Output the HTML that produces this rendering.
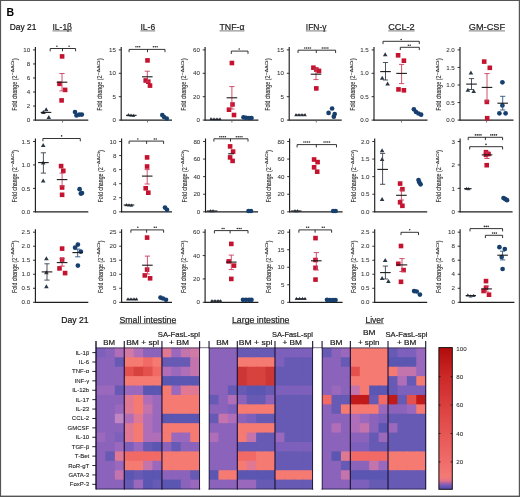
<!DOCTYPE html><html><head><meta charset="utf-8"><style>html,body{margin:0;padding:0;background:#fff;}body{width:520px;height:497px;overflow:hidden;}svg{display:block;font-family:"Liberation Sans", sans-serif;will-change:transform;}</style></head><body><svg width="520" height="497" viewBox="0 0 520 497"><rect width="520" height="497" fill="#fff"/><text x="6.4" y="15.5" font-size="10.5" text-anchor="start" fill="#000" font-weight="bold">B</text><text x="9.8" y="30" font-size="9.3" text-anchor="start" fill="#111" stroke="#111" stroke-width="0.2" textLength="26.6" lengthAdjust="spacingAndGlyphs">Day 21</text><text x="52.5" y="29.8" font-size="9" text-anchor="start" fill="#222" stroke="#222" stroke-width="0.2" textLength="19.5" lengthAdjust="spacingAndGlyphs">IL-1&#946;</text><line x1="52.5" y1="30.9" x2="72" y2="30.9" stroke="#444" stroke-width="0.7"/><text x="140.4" y="29.8" font-size="9" text-anchor="start" fill="#222" stroke="#222" stroke-width="0.2" textLength="14.8" lengthAdjust="spacingAndGlyphs">IL-6</text><line x1="140.4" y1="30.9" x2="155.2" y2="30.9" stroke="#444" stroke-width="0.7"/><text x="219.5" y="29.8" font-size="9" text-anchor="start" fill="#222" stroke="#222" stroke-width="0.2" textLength="25" lengthAdjust="spacingAndGlyphs">TNF-&#945;</text><line x1="219.5" y1="30.9" x2="244.5" y2="30.9" stroke="#444" stroke-width="0.7"/><text x="305.8" y="29.8" font-size="9" text-anchor="start" fill="#222" stroke="#222" stroke-width="0.2" textLength="20.7" lengthAdjust="spacingAndGlyphs">IFN-&#947;</text><line x1="305.8" y1="30.9" x2="326.5" y2="30.9" stroke="#444" stroke-width="0.7"/><text x="388.2" y="29.8" font-size="9" text-anchor="start" fill="#222" stroke="#222" stroke-width="0.2" textLength="26.5" lengthAdjust="spacingAndGlyphs">CCL-2</text><line x1="388.2" y1="30.9" x2="414.7" y2="30.9" stroke="#444" stroke-width="0.7"/><text x="468.8" y="29.8" font-size="9" text-anchor="start" fill="#222" stroke="#222" stroke-width="0.2" textLength="36.2" lengthAdjust="spacingAndGlyphs">GM-CSF</text><line x1="468.8" y1="30.9" x2="505" y2="30.9" stroke="#444" stroke-width="0.7"/><text x="61.3" y="323" font-size="9" text-anchor="start" fill="#111" stroke="#111" stroke-width="0.2" textLength="27.3" lengthAdjust="spacingAndGlyphs">Day 21</text><text x="119.5" y="322.8" font-size="9" text-anchor="start" fill="#222" stroke="#222" stroke-width="0.2" textLength="56.8" lengthAdjust="spacingAndGlyphs">Small intestine</text><line x1="119.5" y1="323.7" x2="176.3" y2="323.7" stroke="#444" stroke-width="0.7"/><text x="232" y="322.8" font-size="9" text-anchor="start" fill="#222" stroke="#222" stroke-width="0.2" textLength="57.5" lengthAdjust="spacingAndGlyphs">Large intestine</text><line x1="232" y1="323.7" x2="289.5" y2="323.7" stroke="#444" stroke-width="0.7"/><text x="365.5" y="322.8" font-size="9" text-anchor="start" fill="#222" stroke="#222" stroke-width="0.2" textLength="18.3" lengthAdjust="spacingAndGlyphs">Liver</text><line x1="365.5" y1="323.7" x2="383.8" y2="323.7" stroke="#444" stroke-width="0.7"/><text x="103.3" y="345.2" font-size="7.4" text-anchor="start" fill="#222" stroke="#222" stroke-width="0.2" textLength="11.8" lengthAdjust="spacingAndGlyphs">BM</text><text x="126.2" y="345.2" font-size="7.4" text-anchor="start" fill="#222" stroke="#222" stroke-width="0.2" textLength="33" lengthAdjust="spacingAndGlyphs">BM + spl</text><text x="157.8" y="337.2" font-size="7.4" text-anchor="start" fill="#222" stroke="#222" stroke-width="0.2" textLength="42.2" lengthAdjust="spacingAndGlyphs">SA-FasL-spl</text><text x="169" y="345" font-size="7.4" text-anchor="start" fill="#222" stroke="#222" stroke-width="0.2" textLength="20" lengthAdjust="spacingAndGlyphs">+ BM</text><text x="216.3" y="345.2" font-size="7.4" text-anchor="start" fill="#222" stroke="#222" stroke-width="0.2" textLength="12.5" lengthAdjust="spacingAndGlyphs">BM</text><text x="238.8" y="345.2" font-size="7.4" text-anchor="start" fill="#222" stroke="#222" stroke-width="0.2" textLength="33.7" lengthAdjust="spacingAndGlyphs">BM + spl</text><text x="272" y="337.4" font-size="7.4" text-anchor="start" fill="#222" stroke="#222" stroke-width="0.2" textLength="41" lengthAdjust="spacingAndGlyphs">SA-FasL-spl</text><text x="282.5" y="345.2" font-size="7.4" text-anchor="start" fill="#222" stroke="#222" stroke-width="0.2" textLength="19.5" lengthAdjust="spacingAndGlyphs">+ BM</text><text x="330" y="345.2" font-size="7.4" text-anchor="start" fill="#222" stroke="#222" stroke-width="0.2" textLength="12.5" lengthAdjust="spacingAndGlyphs">BM</text><text x="363" y="335.4" font-size="7.4" text-anchor="start" fill="#222" stroke="#222" stroke-width="0.2" textLength="12.5" lengthAdjust="spacingAndGlyphs">BM</text><text x="358" y="345.2" font-size="7.4" text-anchor="start" fill="#222" stroke="#222" stroke-width="0.2" textLength="21.5" lengthAdjust="spacingAndGlyphs">+ spln</text><text x="385.5" y="337.4" font-size="7.4" text-anchor="start" fill="#222" stroke="#222" stroke-width="0.2" textLength="42" lengthAdjust="spacingAndGlyphs">SA-FasL-spl</text><text x="397" y="345.2" font-size="7.4" text-anchor="start" fill="#222" stroke="#222" stroke-width="0.2" textLength="19.3" lengthAdjust="spacingAndGlyphs">+ BM</text><line x1="35.4" y1="46.9" x2="35.4" y2="120.6" stroke="#1e1e1e" stroke-width="1.15"/><line x1="34.9" y1="120.1" x2="88.3" y2="120.1" stroke="#1e1e1e" stroke-width="1.2"/><line x1="62.5" y1="120.1" x2="62.5" y2="122.5" stroke="#555" stroke-width="0.8"/><line x1="33" y1="120.1" x2="35.4" y2="120.1" stroke="#1e1e1e" stroke-width="0.9"/><text x="30.2" y="122.25" font-size="6.2" text-anchor="end" fill="#333" stroke="#333" stroke-width="0.05">0</text><line x1="33" y1="106.06" x2="35.4" y2="106.06" stroke="#1e1e1e" stroke-width="0.9"/><text x="30.2" y="108.21" font-size="6.2" text-anchor="end" fill="#333" stroke="#333" stroke-width="0.05">2</text><line x1="33" y1="92.02" x2="35.4" y2="92.02" stroke="#1e1e1e" stroke-width="0.9"/><text x="30.2" y="94.17" font-size="6.2" text-anchor="end" fill="#333" stroke="#333" stroke-width="0.05">4</text><line x1="33" y1="77.98" x2="35.4" y2="77.98" stroke="#1e1e1e" stroke-width="0.9"/><text x="30.2" y="80.13" font-size="6.2" text-anchor="end" fill="#333" stroke="#333" stroke-width="0.05">6</text><line x1="33" y1="63.94" x2="35.4" y2="63.94" stroke="#1e1e1e" stroke-width="0.9"/><text x="30.2" y="66.09" font-size="6.2" text-anchor="end" fill="#333" stroke="#333" stroke-width="0.05">8</text><line x1="33" y1="49.9" x2="35.4" y2="49.9" stroke="#1e1e1e" stroke-width="0.9"/><text x="30.2" y="52.05" font-size="6.2" text-anchor="end" fill="#333" stroke="#333" stroke-width="0.05">10</text><g transform="translate(16.6 110.7) rotate(-90)" fill="#2a2a2a" stroke="#2a2a2a" stroke-width="0.12"><text x="0" y="0" font-size="6.4" textLength="35" lengthAdjust="spacingAndGlyphs">Fold change (2</text><text x="35.6" y="-2.4" font-size="4.3" textLength="14.6" lengthAdjust="spacingAndGlyphs">&#8722;&#916;&#916;Ct</text><text x="50.4" y="0" font-size="6.4">)</text></g><path d="M50.2 51.3V48.5H75.6V51.3" fill="none" stroke="#1e1e1e" stroke-width="0.9"/><line x1="62.5" y1="48.5" x2="62.5" y2="51.3" stroke="#1e1e1e" stroke-width="0.9"/><circle cx="56.9" cy="46.2" r="0.8" fill="#2e2e2e"/><circle cx="69.1" cy="46.2" r="0.8" fill="#2e2e2e"/><path d="M46.2 107.3L48.5 111.3L43.9 111.3Z" fill="#2c3846"/><path d="M43.4 109.9L45.7 113.9L41.1 113.9Z" fill="#2c3846"/><path d="M48.8 115L51.1 119L46.5 119Z" fill="#2c3846"/><rect x="59.8" y="54.1" width="4.6" height="4.6" fill="#c4122f"/><rect x="57.2" y="81.5" width="4.6" height="4.6" fill="#c4122f"/><rect x="62.8" y="87.6" width="4.6" height="4.6" fill="#c4122f"/><rect x="59.3" y="98.1" width="4.6" height="4.6" fill="#c4122f"/><circle cx="75" cy="112" r="2.35" fill="#173f6e"/><circle cx="76.5" cy="115.4" r="2.35" fill="#173f6e"/><circle cx="79.3" cy="114.6" r="2.35" fill="#173f6e"/><circle cx="81.8" cy="114.6" r="2.35" fill="#173f6e"/><line x1="40.7" y1="112.4" x2="51.3" y2="112.4" stroke="#1a1a1a" stroke-width="1.1"/><line x1="62" y1="73.5" x2="62" y2="90.9" stroke="#cc3d5e" stroke-width="0.9"/><line x1="59.4" y1="73.5" x2="64.6" y2="73.5" stroke="#cc3d5e" stroke-width="0.9"/><line x1="59.4" y1="90.9" x2="64.6" y2="90.9" stroke="#cc3d5e" stroke-width="0.9"/><line x1="56.7" y1="82.2" x2="67.3" y2="82.2" stroke="#1a1a1a" stroke-width="1.1"/><line x1="121.2" y1="46.9" x2="121.2" y2="120.6" stroke="#1e1e1e" stroke-width="1.15"/><line x1="120.7" y1="120.1" x2="172" y2="120.1" stroke="#1e1e1e" stroke-width="1.2"/><line x1="147.5" y1="120.1" x2="147.5" y2="122.5" stroke="#555" stroke-width="0.8"/><line x1="118.8" y1="120.1" x2="121.2" y2="120.1" stroke="#1e1e1e" stroke-width="0.9"/><text x="116" y="122.25" font-size="6.2" text-anchor="end" fill="#333" stroke="#333" stroke-width="0.05">0</text><line x1="118.8" y1="96.7" x2="121.2" y2="96.7" stroke="#1e1e1e" stroke-width="0.9"/><text x="116" y="98.85" font-size="6.2" text-anchor="end" fill="#333" stroke="#333" stroke-width="0.05">5</text><line x1="118.8" y1="73.3" x2="121.2" y2="73.3" stroke="#1e1e1e" stroke-width="0.9"/><text x="116" y="75.45" font-size="6.2" text-anchor="end" fill="#333" stroke="#333" stroke-width="0.05">10</text><line x1="118.8" y1="49.9" x2="121.2" y2="49.9" stroke="#1e1e1e" stroke-width="0.9"/><text x="116" y="52.05" font-size="6.2" text-anchor="end" fill="#333" stroke="#333" stroke-width="0.05">15</text><g transform="translate(102.4 110.7) rotate(-90)" fill="#2a2a2a" stroke="#2a2a2a" stroke-width="0.12"><text x="0" y="0" font-size="6.4" textLength="35" lengthAdjust="spacingAndGlyphs">Fold change (2</text><text x="35.6" y="-2.4" font-size="4.3" textLength="14.6" lengthAdjust="spacingAndGlyphs">&#8722;&#916;&#916;Ct</text><text x="50.4" y="0" font-size="6.4">)</text></g><path d="M129.1 52.2V49.4H165V52.2" fill="none" stroke="#1e1e1e" stroke-width="0.9"/><line x1="147.5" y1="49.4" x2="147.5" y2="52.2" stroke="#1e1e1e" stroke-width="0.9"/><circle cx="135.95" cy="46.8" r="0.8" fill="#2e2e2e"/><circle cx="137.8" cy="46.8" r="0.8" fill="#2e2e2e"/><circle cx="139.65" cy="46.8" r="0.8" fill="#2e2e2e"/><circle cx="153.45" cy="46.8" r="0.8" fill="#2e2e2e"/><circle cx="155.3" cy="46.8" r="0.8" fill="#2e2e2e"/><circle cx="157.15" cy="46.8" r="0.8" fill="#2e2e2e"/><path d="M128.5 113.07L130.35 116.29L126.65 116.29Z" fill="#3e4a5e"/><path d="M131 113.57L132.85 116.79L129.15 116.79Z" fill="#3e4a5e"/><path d="M133.5 113.87L135.35 117.09L131.65 117.09Z" fill="#3e4a5e"/><rect x="145.2" y="58.1" width="4.6" height="4.6" fill="#c4122f"/><rect x="143.4" y="78.2" width="4.6" height="4.6" fill="#c4122f"/><rect x="146" y="79.4" width="4.6" height="4.6" fill="#c4122f"/><rect x="147.7" y="83.3" width="4.6" height="4.6" fill="#c4122f"/><circle cx="162.3" cy="115" r="2.35" fill="#173f6e"/><circle cx="164" cy="117" r="2.35" fill="#173f6e"/><circle cx="166.7" cy="118.6" r="2.35" fill="#173f6e"/><line x1="126" y1="115.3" x2="136.6" y2="115.3" stroke="#1a1a1a" stroke-width="1.1"/><line x1="147.3" y1="71.2" x2="147.3" y2="82" stroke="#cc3d5e" stroke-width="0.9"/><line x1="144.7" y1="71.2" x2="149.9" y2="71.2" stroke="#cc3d5e" stroke-width="0.9"/><line x1="144.7" y1="82" x2="149.9" y2="82" stroke="#cc3d5e" stroke-width="0.9"/><line x1="142" y1="76.8" x2="152.6" y2="76.8" stroke="#1a1a1a" stroke-width="1.1"/><line x1="205.1" y1="46.9" x2="205.1" y2="120.6" stroke="#1e1e1e" stroke-width="1.15"/><line x1="204.6" y1="120.1" x2="258.4" y2="120.1" stroke="#1e1e1e" stroke-width="1.2"/><line x1="231.9" y1="120.1" x2="231.9" y2="122.5" stroke="#555" stroke-width="0.8"/><line x1="202.7" y1="120.1" x2="205.1" y2="120.1" stroke="#1e1e1e" stroke-width="0.9"/><text x="199.9" y="122.25" font-size="6.2" text-anchor="end" fill="#333" stroke="#333" stroke-width="0.05">0</text><line x1="202.7" y1="96.7" x2="205.1" y2="96.7" stroke="#1e1e1e" stroke-width="0.9"/><text x="199.9" y="98.85" font-size="6.2" text-anchor="end" fill="#333" stroke="#333" stroke-width="0.05">20</text><line x1="202.7" y1="73.3" x2="205.1" y2="73.3" stroke="#1e1e1e" stroke-width="0.9"/><text x="199.9" y="75.45" font-size="6.2" text-anchor="end" fill="#333" stroke="#333" stroke-width="0.05">40</text><line x1="202.7" y1="49.9" x2="205.1" y2="49.9" stroke="#1e1e1e" stroke-width="0.9"/><text x="199.9" y="52.05" font-size="6.2" text-anchor="end" fill="#333" stroke="#333" stroke-width="0.05">60</text><g transform="translate(186.3 110.7) rotate(-90)" fill="#2a2a2a" stroke="#2a2a2a" stroke-width="0.12"><text x="0" y="0" font-size="6.4" textLength="35" lengthAdjust="spacingAndGlyphs">Fold change (2</text><text x="35.6" y="-2.4" font-size="4.3" textLength="14.6" lengthAdjust="spacingAndGlyphs">&#8722;&#916;&#916;Ct</text><text x="50.4" y="0" font-size="6.4">)</text></g><path d="M231.3 53.9V51.1H248V53.9" fill="none" stroke="#1e1e1e" stroke-width="0.9"/><circle cx="239.2" cy="49" r="0.8" fill="#2e2e2e"/><path d="M211 117.07L212.85 120.29L209.15 120.29Z" fill="#3e4a5e"/><path d="M214 117.37L215.85 120.59L212.15 120.59Z" fill="#3e4a5e"/><path d="M217 117.37L218.85 120.59L215.15 120.59Z" fill="#3e4a5e"/><path d="M220 117.37L221.85 120.59L218.15 120.59Z" fill="#3e4a5e"/><rect x="229.6" y="60.7" width="4.6" height="4.6" fill="#c4122f"/><rect x="230.2" y="102.2" width="4.6" height="4.6" fill="#c4122f"/><rect x="226.7" y="107.4" width="4.6" height="4.6" fill="#c4122f"/><rect x="231.7" y="112.7" width="4.6" height="4.6" fill="#c4122f"/><circle cx="243.5" cy="117.3" r="2.35" fill="#173f6e"/><circle cx="246" cy="117.8" r="2.35" fill="#173f6e"/><circle cx="249" cy="118" r="2.35" fill="#173f6e"/><circle cx="251.5" cy="118" r="2.35" fill="#173f6e"/><line x1="210.2" y1="119.3" x2="220.8" y2="119.3" stroke="#1a1a1a" stroke-width="1.1"/><line x1="231.9" y1="86.6" x2="231.9" y2="109" stroke="#cc3d5e" stroke-width="0.9"/><line x1="229.3" y1="86.6" x2="234.5" y2="86.6" stroke="#cc3d5e" stroke-width="0.9"/><line x1="229.3" y1="109" x2="234.5" y2="109" stroke="#cc3d5e" stroke-width="0.9"/><line x1="226.6" y1="97.8" x2="237.2" y2="97.8" stroke="#1a1a1a" stroke-width="1.1"/><line x1="289.2" y1="46.9" x2="289.2" y2="120.6" stroke="#1e1e1e" stroke-width="1.15"/><line x1="288.7" y1="120.1" x2="341.7" y2="120.1" stroke="#1e1e1e" stroke-width="1.2"/><line x1="316.3" y1="120.1" x2="316.3" y2="122.5" stroke="#555" stroke-width="0.8"/><line x1="286.8" y1="120.1" x2="289.2" y2="120.1" stroke="#1e1e1e" stroke-width="0.9"/><text x="284" y="122.25" font-size="6.2" text-anchor="end" fill="#333" stroke="#333" stroke-width="0.05">0</text><line x1="286.8" y1="96.7" x2="289.2" y2="96.7" stroke="#1e1e1e" stroke-width="0.9"/><text x="284" y="98.85" font-size="6.2" text-anchor="end" fill="#333" stroke="#333" stroke-width="0.05">5</text><line x1="286.8" y1="73.3" x2="289.2" y2="73.3" stroke="#1e1e1e" stroke-width="0.9"/><text x="284" y="75.45" font-size="6.2" text-anchor="end" fill="#333" stroke="#333" stroke-width="0.05">10</text><line x1="286.8" y1="49.9" x2="289.2" y2="49.9" stroke="#1e1e1e" stroke-width="0.9"/><text x="284" y="52.05" font-size="6.2" text-anchor="end" fill="#333" stroke="#333" stroke-width="0.05">15</text><g transform="translate(270.4 110.7) rotate(-90)" fill="#2a2a2a" stroke="#2a2a2a" stroke-width="0.12"><text x="0" y="0" font-size="6.4" textLength="35" lengthAdjust="spacingAndGlyphs">Fold change (2</text><text x="35.6" y="-2.4" font-size="4.3" textLength="14.6" lengthAdjust="spacingAndGlyphs">&#8722;&#916;&#916;Ct</text><text x="50.4" y="0" font-size="6.4">)</text></g><path d="M298 53V50.2H335.6V53" fill="none" stroke="#1e1e1e" stroke-width="0.9"/><line x1="316.3" y1="50.2" x2="316.3" y2="53" stroke="#1e1e1e" stroke-width="0.9"/><circle cx="304.83" cy="48" r="0.8" fill="#2e2e2e"/><circle cx="306.68" cy="48" r="0.8" fill="#2e2e2e"/><circle cx="308.53" cy="48" r="0.8" fill="#2e2e2e"/><circle cx="310.38" cy="48" r="0.8" fill="#2e2e2e"/><circle cx="322.33" cy="48" r="0.8" fill="#2e2e2e"/><circle cx="324.18" cy="48" r="0.8" fill="#2e2e2e"/><circle cx="326.03" cy="48" r="0.8" fill="#2e2e2e"/><circle cx="327.88" cy="48" r="0.8" fill="#2e2e2e"/><path d="M296 113.07L297.85 116.29L294.15 116.29Z" fill="#3e4a5e"/><path d="M299 113.07L300.85 116.29L297.15 116.29Z" fill="#3e4a5e"/><path d="M302 113.07L303.85 116.29L300.15 116.29Z" fill="#3e4a5e"/><path d="M305 113.07L306.85 116.29L303.15 116.29Z" fill="#3e4a5e"/><rect x="311.1" y="65.4" width="4.6" height="4.6" fill="#c4122f"/><rect x="314" y="67.2" width="4.6" height="4.6" fill="#c4122f"/><rect x="316.7" y="68.6" width="4.6" height="4.6" fill="#c4122f"/><rect x="314" y="86.1" width="4.6" height="4.6" fill="#c4122f"/><circle cx="332.1" cy="108.5" r="2.35" fill="#173f6e"/><circle cx="328.6" cy="112.9" r="2.35" fill="#173f6e"/><circle cx="334.7" cy="114" r="2.35" fill="#173f6e"/><circle cx="333.8" cy="116.7" r="2.35" fill="#173f6e"/><line x1="295.2" y1="115" x2="305.8" y2="115" stroke="#1a1a1a" stroke-width="1.1"/><line x1="316" y1="68.9" x2="316" y2="79.6" stroke="#cc3d5e" stroke-width="0.9"/><line x1="313.4" y1="68.9" x2="318.6" y2="68.9" stroke="#cc3d5e" stroke-width="0.9"/><line x1="313.4" y1="79.6" x2="318.6" y2="79.6" stroke="#cc3d5e" stroke-width="0.9"/><line x1="310.7" y1="74.2" x2="321.3" y2="74.2" stroke="#1a1a1a" stroke-width="1.1"/><line x1="374" y1="46.9" x2="374" y2="120.6" stroke="#1e1e1e" stroke-width="1.15"/><line x1="373.5" y1="120.1" x2="427.5" y2="120.1" stroke="#1e1e1e" stroke-width="1.2"/><line x1="401.5" y1="120.1" x2="401.5" y2="122.5" stroke="#555" stroke-width="0.8"/><line x1="371.6" y1="120.1" x2="374" y2="120.1" stroke="#1e1e1e" stroke-width="0.9"/><text x="368.8" y="122.25" font-size="6.2" text-anchor="end" fill="#333" stroke="#333" stroke-width="0.05">0.0</text><line x1="371.6" y1="96.7" x2="374" y2="96.7" stroke="#1e1e1e" stroke-width="0.9"/><text x="368.8" y="98.85" font-size="6.2" text-anchor="end" fill="#333" stroke="#333" stroke-width="0.05">0.5</text><line x1="371.6" y1="73.3" x2="374" y2="73.3" stroke="#1e1e1e" stroke-width="0.9"/><text x="368.8" y="75.45" font-size="6.2" text-anchor="end" fill="#333" stroke="#333" stroke-width="0.05">1.0</text><line x1="371.6" y1="49.9" x2="374" y2="49.9" stroke="#1e1e1e" stroke-width="0.9"/><text x="368.8" y="52.05" font-size="6.2" text-anchor="end" fill="#333" stroke="#333" stroke-width="0.05">1.5</text><g transform="translate(355.2 110.7) rotate(-90)" fill="#2a2a2a" stroke="#2a2a2a" stroke-width="0.12"><text x="0" y="0" font-size="6.4" textLength="35" lengthAdjust="spacingAndGlyphs">Fold change (2</text><text x="35.6" y="-2.4" font-size="4.3" textLength="14.6" lengthAdjust="spacingAndGlyphs">&#8722;&#916;&#916;Ct</text><text x="50.4" y="0" font-size="6.4">)</text></g><path d="M383 44.1V41.3H419.3V44.1" fill="none" stroke="#1e1e1e" stroke-width="0.9"/><path d="M400.3 50.1V47.3H419.3V50.1" fill="none" stroke="#1e1e1e" stroke-width="0.9"/><circle cx="401.2" cy="39.5" r="0.8" fill="#2e2e2e"/><circle cx="408.38" cy="45.3" r="0.8" fill="#2e2e2e"/><circle cx="410.23" cy="45.3" r="0.8" fill="#2e2e2e"/><path d="M385.2 52.2L387.5 56.2L382.9 56.2Z" fill="#2c3846"/><path d="M382.2 75.7L384.5 79.7L379.9 79.7Z" fill="#2c3846"/><path d="M387.6 81.5L389.9 85.5L385.3 85.5Z" fill="#2c3846"/><rect x="395.8" y="53" width="4.6" height="4.6" fill="#c4122f"/><rect x="401.6" y="58.4" width="4.6" height="4.6" fill="#c4122f"/><rect x="396.2" y="87.1" width="4.6" height="4.6" fill="#c4122f"/><rect x="401.6" y="88" width="4.6" height="4.6" fill="#c4122f"/><circle cx="413.9" cy="109.3" r="2.35" fill="#173f6e"/><circle cx="416" cy="112" r="2.35" fill="#173f6e"/><circle cx="418.5" cy="113.5" r="2.35" fill="#173f6e"/><circle cx="421.1" cy="114.7" r="2.35" fill="#173f6e"/><line x1="385.5" y1="62.5" x2="385.5" y2="80" stroke="#3a3f4a" stroke-width="0.9"/><line x1="382.9" y1="62.5" x2="388.1" y2="62.5" stroke="#3a3f4a" stroke-width="0.9"/><line x1="382.9" y1="80" x2="388.1" y2="80" stroke="#3a3f4a" stroke-width="0.9"/><line x1="380.2" y1="71.6" x2="390.8" y2="71.6" stroke="#1a1a1a" stroke-width="1.1"/><line x1="401.6" y1="64.4" x2="401.6" y2="83.6" stroke="#cc3d5e" stroke-width="0.9"/><line x1="399" y1="64.4" x2="404.2" y2="64.4" stroke="#cc3d5e" stroke-width="0.9"/><line x1="399" y1="83.6" x2="404.2" y2="83.6" stroke="#cc3d5e" stroke-width="0.9"/><line x1="396.3" y1="73.4" x2="406.9" y2="73.4" stroke="#1a1a1a" stroke-width="1.1"/><line x1="460" y1="46.9" x2="460" y2="120.6" stroke="#1e1e1e" stroke-width="1.15"/><line x1="459.5" y1="120.1" x2="513.5" y2="120.1" stroke="#1e1e1e" stroke-width="1.2"/><line x1="486.6" y1="120.1" x2="486.6" y2="122.5" stroke="#555" stroke-width="0.8"/><line x1="457.6" y1="120.1" x2="460" y2="120.1" stroke="#1e1e1e" stroke-width="0.9"/><text x="454.8" y="122.25" font-size="6.2" text-anchor="end" fill="#333" stroke="#333" stroke-width="0.05">0.0</text><line x1="457.6" y1="102.55" x2="460" y2="102.55" stroke="#1e1e1e" stroke-width="0.9"/><text x="454.8" y="104.7" font-size="6.2" text-anchor="end" fill="#333" stroke="#333" stroke-width="0.05">0.5</text><line x1="457.6" y1="85" x2="460" y2="85" stroke="#1e1e1e" stroke-width="0.9"/><text x="454.8" y="87.15" font-size="6.2" text-anchor="end" fill="#333" stroke="#333" stroke-width="0.05">1.0</text><line x1="457.6" y1="67.45" x2="460" y2="67.45" stroke="#1e1e1e" stroke-width="0.9"/><text x="454.8" y="69.6" font-size="6.2" text-anchor="end" fill="#333" stroke="#333" stroke-width="0.05">1.5</text><line x1="457.6" y1="49.9" x2="460" y2="49.9" stroke="#1e1e1e" stroke-width="0.9"/><text x="454.8" y="52.05" font-size="6.2" text-anchor="end" fill="#333" stroke="#333" stroke-width="0.05">2.0</text><g transform="translate(441.2 110.7) rotate(-90)" fill="#2a2a2a" stroke="#2a2a2a" stroke-width="0.12"><text x="0" y="0" font-size="6.4" textLength="35" lengthAdjust="spacingAndGlyphs">Fold change (2</text><text x="35.6" y="-2.4" font-size="4.3" textLength="14.6" lengthAdjust="spacingAndGlyphs">&#8722;&#916;&#916;Ct</text><text x="50.4" y="0" font-size="6.4">)</text></g><path d="M470.9 70.6L473.2 74.6L468.6 74.6Z" fill="#2c3846"/><path d="M467.9 87.8L470.2 91.8L465.6 91.8Z" fill="#2c3846"/><path d="M473.7 89L476 93L471.4 93Z" fill="#2c3846"/><rect x="481.9" y="59.3" width="4.6" height="4.6" fill="#c4122f"/><rect x="487.5" y="65.5" width="4.6" height="4.6" fill="#c4122f"/><rect x="484.5" y="99.6" width="4.6" height="4.6" fill="#c4122f"/><rect x="484.9" y="115.9" width="4.6" height="4.6" fill="#c4122f"/><circle cx="502.4" cy="82.3" r="2.35" fill="#173f6e"/><circle cx="502.4" cy="105.4" r="2.35" fill="#173f6e"/><circle cx="499.4" cy="113.3" r="2.35" fill="#173f6e"/><circle cx="505.6" cy="113.3" r="2.35" fill="#173f6e"/><line x1="471.5" y1="78.6" x2="471.5" y2="89.5" stroke="#3a3f4a" stroke-width="0.9"/><line x1="468.9" y1="78.6" x2="474.1" y2="78.6" stroke="#3a3f4a" stroke-width="0.9"/><line x1="468.9" y1="89.5" x2="474.1" y2="89.5" stroke="#3a3f4a" stroke-width="0.9"/><line x1="466.2" y1="84.1" x2="476.8" y2="84.1" stroke="#1a1a1a" stroke-width="1.1"/><line x1="487" y1="73.6" x2="487" y2="101" stroke="#cc3d5e" stroke-width="0.9"/><line x1="484.4" y1="73.6" x2="489.6" y2="73.6" stroke="#cc3d5e" stroke-width="0.9"/><line x1="484.4" y1="101" x2="489.6" y2="101" stroke="#cc3d5e" stroke-width="0.9"/><line x1="481.7" y1="87.4" x2="492.3" y2="87.4" stroke="#1a1a1a" stroke-width="1.1"/><line x1="502.7" y1="96.3" x2="502.7" y2="110" stroke="#2a5585" stroke-width="0.9"/><line x1="500.1" y1="96.3" x2="505.3" y2="96.3" stroke="#2a5585" stroke-width="0.9"/><line x1="500.1" y1="110" x2="505.3" y2="110" stroke="#2a5585" stroke-width="0.9"/><line x1="497.4" y1="103.2" x2="508" y2="103.2" stroke="#1a1a1a" stroke-width="1.1"/><line x1="35.4" y1="138.5" x2="35.4" y2="212.3" stroke="#1e1e1e" stroke-width="1.15"/><line x1="34.9" y1="211.8" x2="88.3" y2="211.8" stroke="#1e1e1e" stroke-width="1.2"/><line x1="33" y1="211.8" x2="35.4" y2="211.8" stroke="#1e1e1e" stroke-width="0.9"/><text x="30.2" y="213.95" font-size="6.2" text-anchor="end" fill="#333" stroke="#333" stroke-width="0.05">0.0</text><line x1="33" y1="188.37" x2="35.4" y2="188.37" stroke="#1e1e1e" stroke-width="0.9"/><text x="30.2" y="190.52" font-size="6.2" text-anchor="end" fill="#333" stroke="#333" stroke-width="0.05">0.5</text><line x1="33" y1="164.93" x2="35.4" y2="164.93" stroke="#1e1e1e" stroke-width="0.9"/><text x="30.2" y="167.08" font-size="6.2" text-anchor="end" fill="#333" stroke="#333" stroke-width="0.05">1.0</text><line x1="33" y1="141.5" x2="35.4" y2="141.5" stroke="#1e1e1e" stroke-width="0.9"/><text x="30.2" y="143.65" font-size="6.2" text-anchor="end" fill="#333" stroke="#333" stroke-width="0.05">1.5</text><g transform="translate(16.6 202.4) rotate(-90)" fill="#2a2a2a" stroke="#2a2a2a" stroke-width="0.12"><text x="0" y="0" font-size="6.4" textLength="35" lengthAdjust="spacingAndGlyphs">Fold change (2</text><text x="35.6" y="-2.4" font-size="4.3" textLength="14.6" lengthAdjust="spacingAndGlyphs">&#8722;&#916;&#916;Ct</text><text x="50.4" y="0" font-size="6.4">)</text></g><path d="M42.9 141.3V138.5H80.3V141.3" fill="none" stroke="#1e1e1e" stroke-width="0.9"/><circle cx="61.6" cy="135.9" r="0.8" fill="#2e2e2e"/><path d="M43.2 143.1L45.5 147.1L40.9 147.1Z" fill="#2c3846"/><path d="M43.2 160.6L45.5 164.6L40.9 164.6Z" fill="#2c3846"/><path d="M43.2 178.4L45.5 182.4L40.9 182.4Z" fill="#2c3846"/><rect x="58.8" y="163.8" width="4.6" height="4.6" fill="#c4122f"/><rect x="61" y="168.5" width="4.6" height="4.6" fill="#c4122f"/><rect x="59.8" y="185.2" width="4.6" height="4.6" fill="#c4122f"/><rect x="59.8" y="192.5" width="4.6" height="4.6" fill="#c4122f"/><circle cx="79.6" cy="189.2" r="2.35" fill="#173f6e"/><circle cx="80.8" cy="193.6" r="2.35" fill="#173f6e"/><circle cx="82" cy="193.1" r="2.35" fill="#173f6e"/><line x1="43.4" y1="152.8" x2="43.4" y2="173.1" stroke="#3a3f4a" stroke-width="0.9"/><line x1="40.8" y1="152.8" x2="46" y2="152.8" stroke="#3a3f4a" stroke-width="0.9"/><line x1="40.8" y1="173.1" x2="46" y2="173.1" stroke="#3a3f4a" stroke-width="0.9"/><line x1="38.1" y1="162.6" x2="48.7" y2="162.6" stroke="#1a1a1a" stroke-width="1.1"/><line x1="62.1" y1="173.1" x2="62.1" y2="186.1" stroke="#cc3d5e" stroke-width="0.9"/><line x1="59.5" y1="173.1" x2="64.7" y2="173.1" stroke="#cc3d5e" stroke-width="0.9"/><line x1="59.5" y1="186.1" x2="64.7" y2="186.1" stroke="#cc3d5e" stroke-width="0.9"/><line x1="56.8" y1="179.6" x2="67.4" y2="179.6" stroke="#1a1a1a" stroke-width="1.1"/><line x1="121.6" y1="138.5" x2="121.6" y2="212.3" stroke="#1e1e1e" stroke-width="1.15"/><line x1="121.1" y1="211.8" x2="172" y2="211.8" stroke="#1e1e1e" stroke-width="1.2"/><line x1="119.2" y1="211.8" x2="121.6" y2="211.8" stroke="#1e1e1e" stroke-width="0.9"/><text x="116.4" y="213.95" font-size="6.2" text-anchor="end" fill="#333" stroke="#333" stroke-width="0.05">0</text><line x1="119.2" y1="197.74" x2="121.6" y2="197.74" stroke="#1e1e1e" stroke-width="0.9"/><text x="116.4" y="199.89" font-size="6.2" text-anchor="end" fill="#333" stroke="#333" stroke-width="0.05">2</text><line x1="119.2" y1="183.68" x2="121.6" y2="183.68" stroke="#1e1e1e" stroke-width="0.9"/><text x="116.4" y="185.83" font-size="6.2" text-anchor="end" fill="#333" stroke="#333" stroke-width="0.05">4</text><line x1="119.2" y1="169.62" x2="121.6" y2="169.62" stroke="#1e1e1e" stroke-width="0.9"/><text x="116.4" y="171.77" font-size="6.2" text-anchor="end" fill="#333" stroke="#333" stroke-width="0.05">6</text><line x1="119.2" y1="155.56" x2="121.6" y2="155.56" stroke="#1e1e1e" stroke-width="0.9"/><text x="116.4" y="157.71" font-size="6.2" text-anchor="end" fill="#333" stroke="#333" stroke-width="0.05">8</text><line x1="119.2" y1="141.5" x2="121.6" y2="141.5" stroke="#1e1e1e" stroke-width="0.9"/><text x="116.4" y="143.65" font-size="6.2" text-anchor="end" fill="#333" stroke="#333" stroke-width="0.05">10</text><g transform="translate(102.8 202.4) rotate(-90)" fill="#2a2a2a" stroke="#2a2a2a" stroke-width="0.12"><text x="0" y="0" font-size="6.4" textLength="35" lengthAdjust="spacingAndGlyphs">Fold change (2</text><text x="35.6" y="-2.4" font-size="4.3" textLength="14.6" lengthAdjust="spacingAndGlyphs">&#8722;&#916;&#916;Ct</text><text x="50.4" y="0" font-size="6.4">)</text></g><path d="M129.1 143.9V141.1H163.6V143.9" fill="none" stroke="#1e1e1e" stroke-width="0.9"/><line x1="146.6" y1="141.1" x2="146.6" y2="143.9" stroke="#1e1e1e" stroke-width="0.9"/><circle cx="137.8" cy="139" r="0.8" fill="#2e2e2e"/><circle cx="154.38" cy="139" r="0.8" fill="#2e2e2e"/><circle cx="156.22" cy="139" r="0.8" fill="#2e2e2e"/><path d="M126.5 203.07L128.35 206.29L124.65 206.29Z" fill="#3e4a5e"/><path d="M129 203.37L130.85 206.59L127.15 206.59Z" fill="#3e4a5e"/><path d="M131.5 203.57L133.35 206.79L129.65 206.79Z" fill="#3e4a5e"/><rect x="144.8" y="155.1" width="4.6" height="4.6" fill="#c4122f"/><rect x="144.8" y="164.2" width="4.6" height="4.6" fill="#c4122f"/><rect x="143.4" y="186" width="4.6" height="4.6" fill="#c4122f"/><rect x="146" y="190.4" width="4.6" height="4.6" fill="#c4122f"/><circle cx="165" cy="207.6" r="2.35" fill="#173f6e"/><circle cx="167" cy="209.8" r="2.35" fill="#173f6e"/><line x1="123.7" y1="205" x2="134.3" y2="205" stroke="#1a1a1a" stroke-width="1.1"/><line x1="147.2" y1="169.6" x2="147.2" y2="184" stroke="#cc3d5e" stroke-width="0.9"/><line x1="144.6" y1="169.6" x2="149.8" y2="169.6" stroke="#cc3d5e" stroke-width="0.9"/><line x1="144.6" y1="184" x2="149.8" y2="184" stroke="#cc3d5e" stroke-width="0.9"/><line x1="141.9" y1="176.1" x2="152.5" y2="176.1" stroke="#1a1a1a" stroke-width="1.1"/><line x1="205.5" y1="138.5" x2="205.5" y2="212.3" stroke="#1e1e1e" stroke-width="1.15"/><line x1="205" y1="211.8" x2="258.1" y2="211.8" stroke="#1e1e1e" stroke-width="1.2"/><line x1="203.1" y1="211.8" x2="205.5" y2="211.8" stroke="#1e1e1e" stroke-width="0.9"/><text x="200.3" y="213.95" font-size="6.2" text-anchor="end" fill="#333" stroke="#333" stroke-width="0.05">0</text><line x1="203.1" y1="194.23" x2="205.5" y2="194.23" stroke="#1e1e1e" stroke-width="0.9"/><text x="200.3" y="196.38" font-size="6.2" text-anchor="end" fill="#333" stroke="#333" stroke-width="0.05">20</text><line x1="203.1" y1="176.65" x2="205.5" y2="176.65" stroke="#1e1e1e" stroke-width="0.9"/><text x="200.3" y="178.8" font-size="6.2" text-anchor="end" fill="#333" stroke="#333" stroke-width="0.05">40</text><line x1="203.1" y1="159.07" x2="205.5" y2="159.07" stroke="#1e1e1e" stroke-width="0.9"/><text x="200.3" y="161.22" font-size="6.2" text-anchor="end" fill="#333" stroke="#333" stroke-width="0.05">60</text><line x1="203.1" y1="141.5" x2="205.5" y2="141.5" stroke="#1e1e1e" stroke-width="0.9"/><text x="200.3" y="143.65" font-size="6.2" text-anchor="end" fill="#333" stroke="#333" stroke-width="0.05">80</text><g transform="translate(186.7 202.4) rotate(-90)" fill="#2a2a2a" stroke="#2a2a2a" stroke-width="0.12"><text x="0" y="0" font-size="6.4" textLength="35" lengthAdjust="spacingAndGlyphs">Fold change (2</text><text x="35.6" y="-2.4" font-size="4.3" textLength="14.6" lengthAdjust="spacingAndGlyphs">&#8722;&#916;&#916;Ct</text><text x="50.4" y="0" font-size="6.4">)</text></g><path d="M213.9 141.6V138.8H248V141.6" fill="none" stroke="#1e1e1e" stroke-width="0.9"/><line x1="230.5" y1="138.8" x2="230.5" y2="141.6" stroke="#1e1e1e" stroke-width="0.9"/><circle cx="219.82" cy="136.8" r="0.8" fill="#2e2e2e"/><circle cx="221.67" cy="136.8" r="0.8" fill="#2e2e2e"/><circle cx="223.52" cy="136.8" r="0.8" fill="#2e2e2e"/><circle cx="225.38" cy="136.8" r="0.8" fill="#2e2e2e"/><circle cx="236.42" cy="136.8" r="0.8" fill="#2e2e2e"/><circle cx="238.27" cy="136.8" r="0.8" fill="#2e2e2e"/><circle cx="240.12" cy="136.8" r="0.8" fill="#2e2e2e"/><circle cx="241.97" cy="136.8" r="0.8" fill="#2e2e2e"/><path d="M210.5 209.07L212.35 212.29L208.65 212.29Z" fill="#3e4a5e"/><path d="M213 209.07L214.85 212.29L211.15 212.29Z" fill="#3e4a5e"/><rect x="227.8" y="144.1" width="4.6" height="4.6" fill="#c4122f"/><rect x="230.8" y="149.3" width="4.6" height="4.6" fill="#c4122f"/><rect x="227.8" y="155.1" width="4.6" height="4.6" fill="#c4122f"/><rect x="230.3" y="158.6" width="4.6" height="4.6" fill="#c4122f"/><circle cx="248.5" cy="211" r="2.35" fill="#173f6e"/><circle cx="251" cy="211" r="2.35" fill="#173f6e"/><line x1="206.8" y1="211" x2="217.4" y2="211" stroke="#1a1a1a" stroke-width="1.1"/><line x1="228.2" y1="153.8" x2="233.8" y2="153.8" stroke="#1a1a1a" stroke-width="1.1"/><line x1="289.6" y1="138.5" x2="289.6" y2="212.3" stroke="#1e1e1e" stroke-width="1.15"/><line x1="289.1" y1="211.8" x2="342.6" y2="211.8" stroke="#1e1e1e" stroke-width="1.2"/><line x1="287.2" y1="211.8" x2="289.6" y2="211.8" stroke="#1e1e1e" stroke-width="0.9"/><text x="284.4" y="213.95" font-size="6.2" text-anchor="end" fill="#333" stroke="#333" stroke-width="0.05">0</text><line x1="287.2" y1="194.23" x2="289.6" y2="194.23" stroke="#1e1e1e" stroke-width="0.9"/><text x="284.4" y="196.38" font-size="6.2" text-anchor="end" fill="#333" stroke="#333" stroke-width="0.05">20</text><line x1="287.2" y1="176.65" x2="289.6" y2="176.65" stroke="#1e1e1e" stroke-width="0.9"/><text x="284.4" y="178.8" font-size="6.2" text-anchor="end" fill="#333" stroke="#333" stroke-width="0.05">40</text><line x1="287.2" y1="159.07" x2="289.6" y2="159.07" stroke="#1e1e1e" stroke-width="0.9"/><text x="284.4" y="161.22" font-size="6.2" text-anchor="end" fill="#333" stroke="#333" stroke-width="0.05">60</text><line x1="287.2" y1="141.5" x2="289.6" y2="141.5" stroke="#1e1e1e" stroke-width="0.9"/><text x="284.4" y="143.65" font-size="6.2" text-anchor="end" fill="#333" stroke="#333" stroke-width="0.05">80</text><g transform="translate(270.8 202.4) rotate(-90)" fill="#2a2a2a" stroke="#2a2a2a" stroke-width="0.12"><text x="0" y="0" font-size="6.4" textLength="35" lengthAdjust="spacingAndGlyphs">Fold change (2</text><text x="35.6" y="-2.4" font-size="4.3" textLength="14.6" lengthAdjust="spacingAndGlyphs">&#8722;&#916;&#916;Ct</text><text x="50.4" y="0" font-size="6.4">)</text></g><path d="M297.1 147.4V144.6H336.5V147.4" fill="none" stroke="#1e1e1e" stroke-width="0.9"/><line x1="316.3" y1="144.6" x2="316.3" y2="147.4" stroke="#1e1e1e" stroke-width="0.9"/><circle cx="303.93" cy="142" r="0.8" fill="#2e2e2e"/><circle cx="305.78" cy="142" r="0.8" fill="#2e2e2e"/><circle cx="307.62" cy="142" r="0.8" fill="#2e2e2e"/><circle cx="309.48" cy="142" r="0.8" fill="#2e2e2e"/><circle cx="324.03" cy="142" r="0.8" fill="#2e2e2e"/><circle cx="325.88" cy="142" r="0.8" fill="#2e2e2e"/><circle cx="327.73" cy="142" r="0.8" fill="#2e2e2e"/><circle cx="329.58" cy="142" r="0.8" fill="#2e2e2e"/><path d="M295 209.07L296.85 212.29L293.15 212.29Z" fill="#3e4a5e"/><path d="M297.5 209.07L299.35 212.29L295.65 212.29Z" fill="#3e4a5e"/><rect x="311.8" y="157.2" width="4.6" height="4.6" fill="#c4122f"/><rect x="315.3" y="159.8" width="4.6" height="4.6" fill="#c4122f"/><rect x="311.8" y="165" width="4.6" height="4.6" fill="#c4122f"/><rect x="314.9" y="169.4" width="4.6" height="4.6" fill="#c4122f"/><circle cx="333.2" cy="211" r="2.35" fill="#173f6e"/><circle cx="335.6" cy="211" r="2.35" fill="#173f6e"/><line x1="290.9" y1="211" x2="301.5" y2="211" stroke="#1a1a1a" stroke-width="1.1"/><line x1="374.7" y1="138.5" x2="374.7" y2="212.3" stroke="#1e1e1e" stroke-width="1.15"/><line x1="374.2" y1="211.8" x2="427.2" y2="211.8" stroke="#1e1e1e" stroke-width="1.2"/><line x1="372.3" y1="211.8" x2="374.7" y2="211.8" stroke="#1e1e1e" stroke-width="0.9"/><text x="369.5" y="213.95" font-size="6.2" text-anchor="end" fill="#333" stroke="#333" stroke-width="0.05">0.0</text><line x1="372.3" y1="194.23" x2="374.7" y2="194.23" stroke="#1e1e1e" stroke-width="0.9"/><text x="369.5" y="196.38" font-size="6.2" text-anchor="end" fill="#333" stroke="#333" stroke-width="0.05">0.5</text><line x1="372.3" y1="176.65" x2="374.7" y2="176.65" stroke="#1e1e1e" stroke-width="0.9"/><text x="369.5" y="178.8" font-size="6.2" text-anchor="end" fill="#333" stroke="#333" stroke-width="0.05">1.0</text><line x1="372.3" y1="159.07" x2="374.7" y2="159.07" stroke="#1e1e1e" stroke-width="0.9"/><text x="369.5" y="161.22" font-size="6.2" text-anchor="end" fill="#333" stroke="#333" stroke-width="0.05">1.5</text><line x1="372.3" y1="141.5" x2="374.7" y2="141.5" stroke="#1e1e1e" stroke-width="0.9"/><text x="369.5" y="143.65" font-size="6.2" text-anchor="end" fill="#333" stroke="#333" stroke-width="0.05">2.0</text><g transform="translate(355.9 202.4) rotate(-90)" fill="#2a2a2a" stroke="#2a2a2a" stroke-width="0.12"><text x="0" y="0" font-size="6.4" textLength="35" lengthAdjust="spacingAndGlyphs">Fold change (2</text><text x="35.6" y="-2.4" font-size="4.3" textLength="14.6" lengthAdjust="spacingAndGlyphs">&#8722;&#916;&#916;Ct</text><text x="50.4" y="0" font-size="6.4">)</text></g><path d="M382.1 148.3L384.4 152.3L379.8 152.3Z" fill="#2c3846"/><path d="M382.1 157.1L384.4 161.1L379.8 161.1Z" fill="#2c3846"/><path d="M382.1 197L384.4 201L379.8 201Z" fill="#2c3846"/><rect x="397.8" y="181.3" width="4.6" height="4.6" fill="#c4122f"/><rect x="400.1" y="186.9" width="4.6" height="4.6" fill="#c4122f"/><rect x="397.8" y="200" width="4.6" height="4.6" fill="#c4122f"/><rect x="400.1" y="203.5" width="4.6" height="4.6" fill="#c4122f"/><circle cx="418.5" cy="180.1" r="2.35" fill="#173f6e"/><circle cx="419.3" cy="182.2" r="2.35" fill="#173f6e"/><circle cx="420.6" cy="184.3" r="2.35" fill="#173f6e"/><line x1="382.6" y1="153.4" x2="382.6" y2="184.3" stroke="#3a3f4a" stroke-width="0.9"/><line x1="380" y1="153.4" x2="385.2" y2="153.4" stroke="#3a3f4a" stroke-width="0.9"/><line x1="380" y1="184.3" x2="385.2" y2="184.3" stroke="#3a3f4a" stroke-width="0.9"/><line x1="377.3" y1="169.4" x2="387.9" y2="169.4" stroke="#1a1a1a" stroke-width="1.1"/><line x1="401.4" y1="190.1" x2="401.4" y2="200" stroke="#cc3d5e" stroke-width="0.9"/><line x1="398.8" y1="190.1" x2="404" y2="190.1" stroke="#cc3d5e" stroke-width="0.9"/><line x1="398.8" y1="200" x2="404" y2="200" stroke="#cc3d5e" stroke-width="0.9"/><line x1="396.1" y1="195.3" x2="406.7" y2="195.3" stroke="#1a1a1a" stroke-width="1.1"/><line x1="460.1" y1="138.5" x2="460.1" y2="212.3" stroke="#1e1e1e" stroke-width="1.15"/><line x1="459.6" y1="211.8" x2="512.6" y2="211.8" stroke="#1e1e1e" stroke-width="1.2"/><line x1="457.7" y1="211.8" x2="460.1" y2="211.8" stroke="#1e1e1e" stroke-width="0.9"/><text x="454.9" y="213.95" font-size="6.2" text-anchor="end" fill="#333" stroke="#333" stroke-width="0.05">0</text><line x1="457.7" y1="188.37" x2="460.1" y2="188.37" stroke="#1e1e1e" stroke-width="0.9"/><text x="454.9" y="190.52" font-size="6.2" text-anchor="end" fill="#333" stroke="#333" stroke-width="0.05">1</text><line x1="457.7" y1="164.93" x2="460.1" y2="164.93" stroke="#1e1e1e" stroke-width="0.9"/><text x="454.9" y="167.08" font-size="6.2" text-anchor="end" fill="#333" stroke="#333" stroke-width="0.05">2</text><line x1="457.7" y1="141.5" x2="460.1" y2="141.5" stroke="#1e1e1e" stroke-width="0.9"/><text x="454.9" y="143.65" font-size="6.2" text-anchor="end" fill="#333" stroke="#333" stroke-width="0.05">3</text><g transform="translate(441.3 202.4) rotate(-90)" fill="#2a2a2a" stroke="#2a2a2a" stroke-width="0.12"><text x="0" y="0" font-size="6.4" textLength="35" lengthAdjust="spacingAndGlyphs">Fold change (2</text><text x="35.6" y="-2.4" font-size="4.3" textLength="14.6" lengthAdjust="spacingAndGlyphs">&#8722;&#916;&#916;Ct</text><text x="50.4" y="0" font-size="6.4">)</text></g><path d="M468.2 140.1V137.3H502.6V140.1" fill="none" stroke="#1e1e1e" stroke-width="0.9"/><line x1="485.4" y1="137.3" x2="485.4" y2="140.1" stroke="#1e1e1e" stroke-width="0.9"/><path d="M469.7 149.5V146.7H502.6V149.5" fill="none" stroke="#1e1e1e" stroke-width="0.9"/><circle cx="475.43" cy="134.9" r="0.8" fill="#2e2e2e"/><circle cx="477.28" cy="134.9" r="0.8" fill="#2e2e2e"/><circle cx="479.12" cy="134.9" r="0.8" fill="#2e2e2e"/><circle cx="480.98" cy="134.9" r="0.8" fill="#2e2e2e"/><circle cx="490.83" cy="134.9" r="0.8" fill="#2e2e2e"/><circle cx="492.68" cy="134.9" r="0.8" fill="#2e2e2e"/><circle cx="494.53" cy="134.9" r="0.8" fill="#2e2e2e"/><circle cx="496.38" cy="134.9" r="0.8" fill="#2e2e2e"/><circle cx="486" cy="144.4" r="0.8" fill="#2e2e2e"/><path d="M466.6 186.67L468.45 189.89L464.75 189.89Z" fill="#3e4a5e"/><path d="M468.6 186.97L470.45 190.19L466.75 190.19Z" fill="#3e4a5e"/><rect x="483.7" y="149.9" width="4.6" height="4.6" fill="#c4122f"/><rect x="486.2" y="151.7" width="4.6" height="4.6" fill="#c4122f"/><rect x="483.7" y="152.6" width="4.6" height="4.6" fill="#c4122f"/><rect x="484.4" y="162.9" width="4.6" height="4.6" fill="#c4122f"/><circle cx="503.5" cy="198" r="2.35" fill="#173f6e"/><circle cx="505.3" cy="199.2" r="2.35" fill="#173f6e"/><circle cx="507" cy="200.2" r="2.35" fill="#173f6e"/><line x1="464" y1="188.7" x2="471.6" y2="188.7" stroke="#1a1a1a" stroke-width="1.1"/><line x1="487" y1="152" x2="487" y2="158.5" stroke="#cc3d5e" stroke-width="0.9"/><line x1="484.4" y1="152" x2="489.6" y2="152" stroke="#cc3d5e" stroke-width="0.9"/><line x1="484.4" y1="158.5" x2="489.6" y2="158.5" stroke="#cc3d5e" stroke-width="0.9"/><line x1="481.7" y1="154.9" x2="492.3" y2="154.9" stroke="#1a1a1a" stroke-width="1.1"/><line x1="35.4" y1="229.2" x2="35.4" y2="302.8" stroke="#1e1e1e" stroke-width="1.15"/><line x1="34.9" y1="302.3" x2="88.3" y2="302.3" stroke="#1e1e1e" stroke-width="1.2"/><line x1="33" y1="302.3" x2="35.4" y2="302.3" stroke="#1e1e1e" stroke-width="0.9"/><text x="30.2" y="304.45" font-size="6.2" text-anchor="end" fill="#333" stroke="#333" stroke-width="0.05">0.0</text><line x1="33" y1="288.28" x2="35.4" y2="288.28" stroke="#1e1e1e" stroke-width="0.9"/><text x="30.2" y="290.43" font-size="6.2" text-anchor="end" fill="#333" stroke="#333" stroke-width="0.05">0.5</text><line x1="33" y1="274.26" x2="35.4" y2="274.26" stroke="#1e1e1e" stroke-width="0.9"/><text x="30.2" y="276.41" font-size="6.2" text-anchor="end" fill="#333" stroke="#333" stroke-width="0.05">1.0</text><line x1="33" y1="260.24" x2="35.4" y2="260.24" stroke="#1e1e1e" stroke-width="0.9"/><text x="30.2" y="262.39" font-size="6.2" text-anchor="end" fill="#333" stroke="#333" stroke-width="0.05">1.5</text><line x1="33" y1="246.22" x2="35.4" y2="246.22" stroke="#1e1e1e" stroke-width="0.9"/><text x="30.2" y="248.37" font-size="6.2" text-anchor="end" fill="#333" stroke="#333" stroke-width="0.05">2.0</text><line x1="33" y1="232.2" x2="35.4" y2="232.2" stroke="#1e1e1e" stroke-width="0.9"/><text x="30.2" y="234.35" font-size="6.2" text-anchor="end" fill="#333" stroke="#333" stroke-width="0.05">2.5</text><g transform="translate(16.6 292.9) rotate(-90)" fill="#2a2a2a" stroke="#2a2a2a" stroke-width="0.12"><text x="0" y="0" font-size="6.4" textLength="35" lengthAdjust="spacingAndGlyphs">Fold change (2</text><text x="35.6" y="-2.4" font-size="4.3" textLength="14.6" lengthAdjust="spacingAndGlyphs">&#8722;&#916;&#916;Ct</text><text x="50.4" y="0" font-size="6.4">)</text></g><path d="M46.4 256.2L48.7 260.2L44.1 260.2Z" fill="#2c3846"/><path d="M46.4 270.2L48.7 274.2L44.1 274.2Z" fill="#2c3846"/><path d="M46.4 284.2L48.7 288.2L44.1 288.2Z" fill="#2c3846"/><rect x="59.8" y="246.3" width="4.6" height="4.6" fill="#c4122f"/><rect x="59.8" y="257.3" width="4.6" height="4.6" fill="#c4122f"/><rect x="57.2" y="266.1" width="4.6" height="4.6" fill="#c4122f"/><rect x="62.8" y="270.8" width="4.6" height="4.6" fill="#c4122f"/><circle cx="77.9" cy="244.6" r="2.35" fill="#173f6e"/><circle cx="75.1" cy="247.7" r="2.35" fill="#173f6e"/><circle cx="80.8" cy="251.6" r="2.35" fill="#173f6e"/><circle cx="77.9" cy="265.6" r="2.35" fill="#173f6e"/><line x1="47" y1="263.8" x2="47" y2="280.1" stroke="#3a3f4a" stroke-width="0.9"/><line x1="44.4" y1="263.8" x2="49.6" y2="263.8" stroke="#3a3f4a" stroke-width="0.9"/><line x1="44.4" y1="280.1" x2="49.6" y2="280.1" stroke="#3a3f4a" stroke-width="0.9"/><line x1="41.7" y1="271.9" x2="52.3" y2="271.9" stroke="#1a1a1a" stroke-width="1.1"/><line x1="62.1" y1="258.6" x2="62.1" y2="266.1" stroke="#cc3d5e" stroke-width="0.9"/><line x1="59.5" y1="258.6" x2="64.7" y2="258.6" stroke="#cc3d5e" stroke-width="0.9"/><line x1="59.5" y1="266.1" x2="64.7" y2="266.1" stroke="#cc3d5e" stroke-width="0.9"/><line x1="56.8" y1="262.6" x2="67.4" y2="262.6" stroke="#1a1a1a" stroke-width="1.1"/><line x1="77.7" y1="249.1" x2="77.7" y2="256.8" stroke="#2a5585" stroke-width="0.9"/><line x1="75.1" y1="249.1" x2="80.3" y2="249.1" stroke="#2a5585" stroke-width="0.9"/><line x1="75.1" y1="256.8" x2="80.3" y2="256.8" stroke="#2a5585" stroke-width="0.9"/><line x1="72.4" y1="252.6" x2="83" y2="252.6" stroke="#1a1a1a" stroke-width="1.1"/><line x1="121.6" y1="229.2" x2="121.6" y2="302.8" stroke="#1e1e1e" stroke-width="1.15"/><line x1="121.1" y1="302.3" x2="172" y2="302.3" stroke="#1e1e1e" stroke-width="1.2"/><line x1="119.2" y1="302.3" x2="121.6" y2="302.3" stroke="#1e1e1e" stroke-width="0.9"/><text x="116.4" y="304.45" font-size="6.2" text-anchor="end" fill="#333" stroke="#333" stroke-width="0.05">0</text><line x1="119.2" y1="288.28" x2="121.6" y2="288.28" stroke="#1e1e1e" stroke-width="0.9"/><text x="116.4" y="290.43" font-size="6.2" text-anchor="end" fill="#333" stroke="#333" stroke-width="0.05">5</text><line x1="119.2" y1="274.26" x2="121.6" y2="274.26" stroke="#1e1e1e" stroke-width="0.9"/><text x="116.4" y="276.41" font-size="6.2" text-anchor="end" fill="#333" stroke="#333" stroke-width="0.05">10</text><line x1="119.2" y1="260.24" x2="121.6" y2="260.24" stroke="#1e1e1e" stroke-width="0.9"/><text x="116.4" y="262.39" font-size="6.2" text-anchor="end" fill="#333" stroke="#333" stroke-width="0.05">15</text><line x1="119.2" y1="246.22" x2="121.6" y2="246.22" stroke="#1e1e1e" stroke-width="0.9"/><text x="116.4" y="248.37" font-size="6.2" text-anchor="end" fill="#333" stroke="#333" stroke-width="0.05">20</text><line x1="119.2" y1="232.2" x2="121.6" y2="232.2" stroke="#1e1e1e" stroke-width="0.9"/><text x="116.4" y="234.35" font-size="6.2" text-anchor="end" fill="#333" stroke="#333" stroke-width="0.05">25</text><g transform="translate(102.8 292.9) rotate(-90)" fill="#2a2a2a" stroke="#2a2a2a" stroke-width="0.12"><text x="0" y="0" font-size="6.4" textLength="35" lengthAdjust="spacingAndGlyphs">Fold change (2</text><text x="35.6" y="-2.4" font-size="4.3" textLength="14.6" lengthAdjust="spacingAndGlyphs">&#8722;&#916;&#916;Ct</text><text x="50.4" y="0" font-size="6.4">)</text></g><path d="M130.9 232.7V229.9H163.6V232.7" fill="none" stroke="#1e1e1e" stroke-width="0.9"/><line x1="146.6" y1="229.9" x2="146.6" y2="232.7" stroke="#1e1e1e" stroke-width="0.9"/><circle cx="137.8" cy="227.3" r="0.8" fill="#2e2e2e"/><circle cx="154.38" cy="227.3" r="0.8" fill="#2e2e2e"/><circle cx="156.22" cy="227.3" r="0.8" fill="#2e2e2e"/><path d="M128 297.37L129.85 300.59L126.15 300.59Z" fill="#3e4a5e"/><path d="M131 297.37L132.85 300.59L129.15 300.59Z" fill="#3e4a5e"/><path d="M134 297.37L135.85 300.59L132.15 300.59Z" fill="#3e4a5e"/><path d="M136.5 297.37L138.35 300.59L134.65 300.59Z" fill="#3e4a5e"/><rect x="144.8" y="235.3" width="4.6" height="4.6" fill="#c4122f"/><rect x="144.8" y="267.3" width="4.6" height="4.6" fill="#c4122f"/><rect x="142.5" y="273.1" width="4.6" height="4.6" fill="#c4122f"/><rect x="147.8" y="276" width="4.6" height="4.6" fill="#c4122f"/><circle cx="160.5" cy="297.6" r="2.35" fill="#173f6e"/><circle cx="163" cy="298.5" r="2.35" fill="#173f6e"/><circle cx="166" cy="299.8" r="2.35" fill="#173f6e"/><line x1="126.7" y1="299.3" x2="137.3" y2="299.3" stroke="#1a1a1a" stroke-width="1.1"/><line x1="147.4" y1="256.1" x2="147.4" y2="274" stroke="#cc3d5e" stroke-width="0.9"/><line x1="144.8" y1="256.1" x2="150" y2="256.1" stroke="#cc3d5e" stroke-width="0.9"/><line x1="144.8" y1="274" x2="150" y2="274" stroke="#cc3d5e" stroke-width="0.9"/><line x1="142.1" y1="265.2" x2="152.7" y2="265.2" stroke="#1a1a1a" stroke-width="1.1"/><line x1="205.1" y1="229.2" x2="205.1" y2="302.8" stroke="#1e1e1e" stroke-width="1.15"/><line x1="204.6" y1="302.3" x2="258.4" y2="302.3" stroke="#1e1e1e" stroke-width="1.2"/><line x1="202.7" y1="302.3" x2="205.1" y2="302.3" stroke="#1e1e1e" stroke-width="0.9"/><text x="199.9" y="304.45" font-size="6.2" text-anchor="end" fill="#333" stroke="#333" stroke-width="0.05">0</text><line x1="202.7" y1="278.93" x2="205.1" y2="278.93" stroke="#1e1e1e" stroke-width="0.9"/><text x="199.9" y="281.08" font-size="6.2" text-anchor="end" fill="#333" stroke="#333" stroke-width="0.05">20</text><line x1="202.7" y1="255.57" x2="205.1" y2="255.57" stroke="#1e1e1e" stroke-width="0.9"/><text x="199.9" y="257.72" font-size="6.2" text-anchor="end" fill="#333" stroke="#333" stroke-width="0.05">40</text><line x1="202.7" y1="232.2" x2="205.1" y2="232.2" stroke="#1e1e1e" stroke-width="0.9"/><text x="199.9" y="234.35" font-size="6.2" text-anchor="end" fill="#333" stroke="#333" stroke-width="0.05">60</text><g transform="translate(186.3 292.9) rotate(-90)" fill="#2a2a2a" stroke="#2a2a2a" stroke-width="0.12"><text x="0" y="0" font-size="6.4" textLength="35" lengthAdjust="spacingAndGlyphs">Fold change (2</text><text x="35.6" y="-2.4" font-size="4.3" textLength="14.6" lengthAdjust="spacingAndGlyphs">&#8722;&#916;&#916;Ct</text><text x="50.4" y="0" font-size="6.4">)</text></g><path d="M214.4 233.4V230.6H248V233.4" fill="none" stroke="#1e1e1e" stroke-width="0.9"/><line x1="230.1" y1="230.6" x2="230.1" y2="233.4" stroke="#1e1e1e" stroke-width="0.9"/><circle cx="222.17" cy="228.5" r="0.8" fill="#2e2e2e"/><circle cx="224.02" cy="228.5" r="0.8" fill="#2e2e2e"/><circle cx="237.35" cy="228.5" r="0.8" fill="#2e2e2e"/><circle cx="239.2" cy="228.5" r="0.8" fill="#2e2e2e"/><circle cx="241.05" cy="228.5" r="0.8" fill="#2e2e2e"/><path d="M212 299.07L213.85 302.29L210.15 302.29Z" fill="#3e4a5e"/><path d="M215 299.07L216.85 302.29L213.15 302.29Z" fill="#3e4a5e"/><path d="M218 299.07L219.85 302.29L216.15 302.29Z" fill="#3e4a5e"/><path d="M220.5 299.07L222.35 302.29L218.65 302.29Z" fill="#3e4a5e"/><rect x="229" y="241.6" width="4.6" height="4.6" fill="#c4122f"/><rect x="226.4" y="259.1" width="4.6" height="4.6" fill="#c4122f"/><rect x="231.7" y="263.3" width="4.6" height="4.6" fill="#c4122f"/><rect x="229" y="276.6" width="4.6" height="4.6" fill="#c4122f"/><circle cx="243" cy="299.8" r="2.35" fill="#173f6e"/><circle cx="246" cy="299.8" r="2.35" fill="#173f6e"/><circle cx="249" cy="299.8" r="2.35" fill="#173f6e"/><circle cx="251.5" cy="299.8" r="2.35" fill="#173f6e"/><line x1="210.7" y1="301" x2="221.3" y2="301" stroke="#1a1a1a" stroke-width="1.1"/><line x1="231.3" y1="255.1" x2="231.3" y2="269.6" stroke="#cc3d5e" stroke-width="0.9"/><line x1="228.7" y1="255.1" x2="233.9" y2="255.1" stroke="#cc3d5e" stroke-width="0.9"/><line x1="228.7" y1="269.6" x2="233.9" y2="269.6" stroke="#cc3d5e" stroke-width="0.9"/><line x1="226" y1="262.1" x2="236.6" y2="262.1" stroke="#1a1a1a" stroke-width="1.1"/><line x1="289.6" y1="229.2" x2="289.6" y2="302.8" stroke="#1e1e1e" stroke-width="1.15"/><line x1="289.1" y1="302.3" x2="342.6" y2="302.3" stroke="#1e1e1e" stroke-width="1.2"/><line x1="287.2" y1="302.3" x2="289.6" y2="302.3" stroke="#1e1e1e" stroke-width="0.9"/><text x="284.4" y="304.45" font-size="6.2" text-anchor="end" fill="#333" stroke="#333" stroke-width="0.05">0</text><line x1="287.2" y1="284.77" x2="289.6" y2="284.77" stroke="#1e1e1e" stroke-width="0.9"/><text x="284.4" y="286.92" font-size="6.2" text-anchor="end" fill="#333" stroke="#333" stroke-width="0.05">5</text><line x1="287.2" y1="267.25" x2="289.6" y2="267.25" stroke="#1e1e1e" stroke-width="0.9"/><text x="284.4" y="269.4" font-size="6.2" text-anchor="end" fill="#333" stroke="#333" stroke-width="0.05">10</text><line x1="287.2" y1="249.72" x2="289.6" y2="249.72" stroke="#1e1e1e" stroke-width="0.9"/><text x="284.4" y="251.88" font-size="6.2" text-anchor="end" fill="#333" stroke="#333" stroke-width="0.05">15</text><line x1="287.2" y1="232.2" x2="289.6" y2="232.2" stroke="#1e1e1e" stroke-width="0.9"/><text x="284.4" y="234.35" font-size="6.2" text-anchor="end" fill="#333" stroke="#333" stroke-width="0.05">20</text><g transform="translate(270.8 292.9) rotate(-90)" fill="#2a2a2a" stroke="#2a2a2a" stroke-width="0.12"><text x="0" y="0" font-size="6.4" textLength="35" lengthAdjust="spacingAndGlyphs">Fold change (2</text><text x="35.6" y="-2.4" font-size="4.3" textLength="14.6" lengthAdjust="spacingAndGlyphs">&#8722;&#916;&#916;Ct</text><text x="50.4" y="0" font-size="6.4">)</text></g><path d="M298.9 232.7V229.9H331.6V232.7" fill="none" stroke="#1e1e1e" stroke-width="0.9"/><line x1="315.1" y1="229.9" x2="315.1" y2="232.7" stroke="#1e1e1e" stroke-width="0.9"/><circle cx="306.68" cy="227.3" r="0.8" fill="#2e2e2e"/><circle cx="308.53" cy="227.3" r="0.8" fill="#2e2e2e"/><circle cx="322.38" cy="227.3" r="0.8" fill="#2e2e2e"/><circle cx="324.23" cy="227.3" r="0.8" fill="#2e2e2e"/><path d="M296.5 296.87L298.35 300.09L294.65 300.09Z" fill="#3e4a5e"/><path d="M299.5 296.87L301.35 300.09L297.65 300.09Z" fill="#3e4a5e"/><path d="M302.5 296.87L304.35 300.09L300.65 300.09Z" fill="#3e4a5e"/><path d="M305 296.87L306.85 300.09L303.15 300.09Z" fill="#3e4a5e"/><rect x="313.2" y="235.8" width="4.6" height="4.6" fill="#c4122f"/><rect x="313.2" y="257.7" width="4.6" height="4.6" fill="#c4122f"/><rect x="313.2" y="265.5" width="4.6" height="4.6" fill="#c4122f"/><rect x="313.2" y="277.3" width="4.6" height="4.6" fill="#c4122f"/><circle cx="327" cy="299.8" r="2.35" fill="#173f6e"/><circle cx="330" cy="300" r="2.35" fill="#173f6e"/><circle cx="333" cy="300" r="2.35" fill="#173f6e"/><circle cx="335.5" cy="300" r="2.35" fill="#173f6e"/><line x1="295.5" y1="298.8" x2="306.1" y2="298.8" stroke="#1a1a1a" stroke-width="1.1"/><line x1="316.3" y1="252.6" x2="316.3" y2="270" stroke="#cc3d5e" stroke-width="0.9"/><line x1="313.7" y1="252.6" x2="318.9" y2="252.6" stroke="#cc3d5e" stroke-width="0.9"/><line x1="313.7" y1="270" x2="318.9" y2="270" stroke="#cc3d5e" stroke-width="0.9"/><line x1="311" y1="260.8" x2="321.6" y2="260.8" stroke="#1a1a1a" stroke-width="1.1"/><line x1="374.7" y1="229.2" x2="374.7" y2="302.8" stroke="#1e1e1e" stroke-width="1.15"/><line x1="374.2" y1="302.3" x2="427.2" y2="302.3" stroke="#1e1e1e" stroke-width="1.2"/><line x1="372.3" y1="302.3" x2="374.7" y2="302.3" stroke="#1e1e1e" stroke-width="0.9"/><text x="369.5" y="304.45" font-size="6.2" text-anchor="end" fill="#333" stroke="#333" stroke-width="0.05">0.0</text><line x1="372.3" y1="288.28" x2="374.7" y2="288.28" stroke="#1e1e1e" stroke-width="0.9"/><text x="369.5" y="290.43" font-size="6.2" text-anchor="end" fill="#333" stroke="#333" stroke-width="0.05">0.5</text><line x1="372.3" y1="274.26" x2="374.7" y2="274.26" stroke="#1e1e1e" stroke-width="0.9"/><text x="369.5" y="276.41" font-size="6.2" text-anchor="end" fill="#333" stroke="#333" stroke-width="0.05">1.0</text><line x1="372.3" y1="260.24" x2="374.7" y2="260.24" stroke="#1e1e1e" stroke-width="0.9"/><text x="369.5" y="262.39" font-size="6.2" text-anchor="end" fill="#333" stroke="#333" stroke-width="0.05">1.5</text><line x1="372.3" y1="246.22" x2="374.7" y2="246.22" stroke="#1e1e1e" stroke-width="0.9"/><text x="369.5" y="248.37" font-size="6.2" text-anchor="end" fill="#333" stroke="#333" stroke-width="0.05">2.0</text><line x1="372.3" y1="232.2" x2="374.7" y2="232.2" stroke="#1e1e1e" stroke-width="0.9"/><text x="369.5" y="234.35" font-size="6.2" text-anchor="end" fill="#333" stroke="#333" stroke-width="0.05">2.5</text><g transform="translate(355.9 292.9) rotate(-90)" fill="#2a2a2a" stroke="#2a2a2a" stroke-width="0.12"><text x="0" y="0" font-size="6.4" textLength="35" lengthAdjust="spacingAndGlyphs">Fold change (2</text><text x="35.6" y="-2.4" font-size="4.3" textLength="14.6" lengthAdjust="spacingAndGlyphs">&#8722;&#916;&#916;Ct</text><text x="50.4" y="0" font-size="6.4">)</text></g><path d="M401 235.1V232.3H418.5V235.1" fill="none" stroke="#1e1e1e" stroke-width="0.9"/><circle cx="409.7" cy="229.7" r="0.8" fill="#2e2e2e"/><path d="M385.2 257.9L387.5 261.9L382.9 261.9Z" fill="#2c3846"/><path d="M382.1 275.9L384.4 279.9L379.8 279.9Z" fill="#2c3846"/><path d="M388.4 278.9L390.7 282.9L386.1 282.9Z" fill="#2c3846"/><rect x="398.7" y="243.7" width="4.6" height="4.6" fill="#c4122f"/><rect x="396" y="261.5" width="4.6" height="4.6" fill="#c4122f"/><rect x="401.3" y="267.8" width="4.6" height="4.6" fill="#c4122f"/><rect x="398.7" y="279.5" width="4.6" height="4.6" fill="#c4122f"/><circle cx="414.1" cy="291.1" r="2.35" fill="#173f6e"/><circle cx="416.7" cy="291.5" r="2.35" fill="#173f6e"/><circle cx="419.9" cy="294.6" r="2.35" fill="#173f6e"/><line x1="385.4" y1="266.1" x2="385.4" y2="279" stroke="#3a3f4a" stroke-width="0.9"/><line x1="382.8" y1="266.1" x2="388" y2="266.1" stroke="#3a3f4a" stroke-width="0.9"/><line x1="382.8" y1="279" x2="388" y2="279" stroke="#3a3f4a" stroke-width="0.9"/><line x1="380.1" y1="272.6" x2="390.7" y2="272.6" stroke="#1a1a1a" stroke-width="1.1"/><line x1="402" y1="258.6" x2="402" y2="271.5" stroke="#cc3d5e" stroke-width="0.9"/><line x1="399.4" y1="258.6" x2="404.6" y2="258.6" stroke="#cc3d5e" stroke-width="0.9"/><line x1="399.4" y1="271.5" x2="404.6" y2="271.5" stroke="#cc3d5e" stroke-width="0.9"/><line x1="396.7" y1="264.9" x2="407.3" y2="264.9" stroke="#1a1a1a" stroke-width="1.1"/><line x1="460.1" y1="229.2" x2="460.1" y2="302.8" stroke="#1e1e1e" stroke-width="1.15"/><line x1="459.6" y1="302.3" x2="514.4" y2="302.3" stroke="#1e1e1e" stroke-width="1.2"/><line x1="457.7" y1="302.3" x2="460.1" y2="302.3" stroke="#1e1e1e" stroke-width="0.9"/><text x="454.9" y="304.45" font-size="6.2" text-anchor="end" fill="#333" stroke="#333" stroke-width="0.05">0</text><line x1="457.7" y1="288.28" x2="460.1" y2="288.28" stroke="#1e1e1e" stroke-width="0.9"/><text x="454.9" y="290.43" font-size="6.2" text-anchor="end" fill="#333" stroke="#333" stroke-width="0.05">2</text><line x1="457.7" y1="274.26" x2="460.1" y2="274.26" stroke="#1e1e1e" stroke-width="0.9"/><text x="454.9" y="276.41" font-size="6.2" text-anchor="end" fill="#333" stroke="#333" stroke-width="0.05">4</text><line x1="457.7" y1="260.24" x2="460.1" y2="260.24" stroke="#1e1e1e" stroke-width="0.9"/><text x="454.9" y="262.39" font-size="6.2" text-anchor="end" fill="#333" stroke="#333" stroke-width="0.05">6</text><line x1="457.7" y1="246.22" x2="460.1" y2="246.22" stroke="#1e1e1e" stroke-width="0.9"/><text x="454.9" y="248.37" font-size="6.2" text-anchor="end" fill="#333" stroke="#333" stroke-width="0.05">8</text><line x1="457.7" y1="232.2" x2="460.1" y2="232.2" stroke="#1e1e1e" stroke-width="0.9"/><text x="454.9" y="234.35" font-size="6.2" text-anchor="end" fill="#333" stroke="#333" stroke-width="0.05">10</text><g transform="translate(441.3 292.9) rotate(-90)" fill="#2a2a2a" stroke="#2a2a2a" stroke-width="0.12"><text x="0" y="0" font-size="6.4" textLength="35" lengthAdjust="spacingAndGlyphs">Fold change (2</text><text x="35.6" y="-2.4" font-size="4.3" textLength="14.6" lengthAdjust="spacingAndGlyphs">&#8722;&#916;&#916;Ct</text><text x="50.4" y="0" font-size="6.4">)</text></g><path d="M470 231.4V228.6H502.6V231.4" fill="none" stroke="#1e1e1e" stroke-width="0.9"/><path d="M485.4 238.1V235.3H502.6V238.1" fill="none" stroke="#1e1e1e" stroke-width="0.9"/><circle cx="484.45" cy="226.4" r="0.8" fill="#2e2e2e"/><circle cx="486.3" cy="226.4" r="0.8" fill="#2e2e2e"/><circle cx="488.15" cy="226.4" r="0.8" fill="#2e2e2e"/><circle cx="492.65" cy="233.1" r="0.8" fill="#2e2e2e"/><circle cx="494.5" cy="233.1" r="0.8" fill="#2e2e2e"/><circle cx="496.35" cy="233.1" r="0.8" fill="#2e2e2e"/><path d="M467.8 293.27L469.65 296.49L465.95 296.49Z" fill="#3e4a5e"/><path d="M470.6 294.37L472.45 297.59L468.75 297.59Z" fill="#3e4a5e"/><path d="M473.6 293.67L475.45 296.89L471.75 296.89Z" fill="#3e4a5e"/><rect x="483.7" y="278.8" width="4.6" height="4.6" fill="#c4122f"/><rect x="483.7" y="285.5" width="4.6" height="4.6" fill="#c4122f"/><rect x="481.3" y="288.7" width="4.6" height="4.6" fill="#c4122f"/><rect x="486.7" y="292.4" width="4.6" height="4.6" fill="#c4122f"/><circle cx="499.4" cy="247.2" r="2.35" fill="#173f6e"/><circle cx="504.8" cy="249" r="2.35" fill="#173f6e"/><circle cx="501.7" cy="257" r="2.35" fill="#173f6e"/><circle cx="502.6" cy="269" r="2.35" fill="#173f6e"/><line x1="465.6" y1="295.6" x2="476" y2="295.6" stroke="#1a1a1a" stroke-width="1.1"/><line x1="486.6" y1="286" x2="486.6" y2="292" stroke="#cc3d5e" stroke-width="0.9"/><line x1="484" y1="286" x2="489.2" y2="286" stroke="#cc3d5e" stroke-width="0.9"/><line x1="484" y1="292" x2="489.2" y2="292" stroke="#cc3d5e" stroke-width="0.9"/><line x1="481.3" y1="288.9" x2="491.9" y2="288.9" stroke="#1a1a1a" stroke-width="1.1"/><line x1="502.6" y1="251.2" x2="502.6" y2="259.9" stroke="#2a5585" stroke-width="0.9"/><line x1="500" y1="251.2" x2="505.2" y2="251.2" stroke="#2a5585" stroke-width="0.9"/><line x1="500" y1="259.9" x2="505.2" y2="259.9" stroke="#2a5585" stroke-width="0.9"/><line x1="497.3" y1="255.2" x2="507.9" y2="255.2" stroke="#1a1a1a" stroke-width="1.1"/><rect x="96" y="347.9" width="10.42" height="10.41" fill="#7c60bc"/><rect x="105.42" y="347.9" width="10.42" height="10.41" fill="#8b63bb"/><rect x="114.84" y="347.9" width="10.42" height="10.41" fill="#b06eb8"/><rect x="124.26" y="347.9" width="10.42" height="10.41" fill="#d27aa6"/><rect x="133.68" y="347.9" width="10.42" height="10.41" fill="#b06eb8"/><rect x="143.1" y="347.9" width="10.42" height="10.41" fill="#8b63bb"/><rect x="152.52" y="347.9" width="10.42" height="10.41" fill="#8b63bb"/><rect x="161.94" y="347.9" width="10.42" height="10.41" fill="#e07894"/><rect x="171.36" y="347.9" width="10.42" height="10.41" fill="#9a68bc"/><rect x="180.78" y="347.9" width="10.42" height="10.41" fill="#c474ac"/><rect x="190.2" y="347.9" width="9.42" height="10.41" fill="#d27aa6"/><rect x="96" y="357.31" width="10.42" height="10.41" fill="#8b63bb"/><rect x="105.42" y="357.31" width="10.42" height="10.41" fill="#8b63bb"/><rect x="114.84" y="357.31" width="10.42" height="10.41" fill="#675ab4"/><rect x="124.26" y="357.31" width="10.42" height="10.41" fill="#f57a72"/><rect x="133.68" y="357.31" width="10.42" height="10.41" fill="#f57a72"/><rect x="143.1" y="357.31" width="10.42" height="10.41" fill="#f26a66"/><rect x="152.52" y="357.31" width="10.42" height="10.41" fill="#f57a72"/><rect x="161.94" y="357.31" width="10.42" height="10.41" fill="#675ab4"/><rect x="171.36" y="357.31" width="10.42" height="10.41" fill="#675ab4"/><rect x="180.78" y="357.31" width="10.42" height="10.41" fill="#675ab4"/><rect x="190.2" y="357.31" width="9.42" height="10.41" fill="#c474ac"/><rect x="96" y="366.72" width="10.42" height="10.41" fill="#8b63bb"/><rect x="105.42" y="366.72" width="10.42" height="10.41" fill="#8b63bb"/><rect x="114.84" y="366.72" width="10.42" height="10.41" fill="#8b63bb"/><rect x="124.26" y="366.72" width="10.42" height="10.41" fill="#e4504c"/><rect x="133.68" y="366.72" width="10.42" height="10.41" fill="#d8423e"/><rect x="143.1" y="366.72" width="10.42" height="10.41" fill="#e4504c"/><rect x="152.52" y="366.72" width="10.42" height="10.41" fill="#f26a66"/><rect x="161.94" y="366.72" width="10.42" height="10.41" fill="#b06eb8"/><rect x="171.36" y="366.72" width="10.42" height="10.41" fill="#9a68bc"/><rect x="180.78" y="366.72" width="10.42" height="10.41" fill="#b06eb8"/><rect x="190.2" y="366.72" width="9.42" height="10.41" fill="#c474ac"/><rect x="96" y="376.13" width="10.42" height="10.41" fill="#8b63bb"/><rect x="105.42" y="376.13" width="10.42" height="10.41" fill="#8b63bb"/><rect x="114.84" y="376.13" width="10.42" height="10.41" fill="#8b63bb"/><rect x="124.26" y="376.13" width="10.42" height="10.41" fill="#f57a72"/><rect x="133.68" y="376.13" width="10.42" height="10.41" fill="#f57a72"/><rect x="143.1" y="376.13" width="10.42" height="10.41" fill="#f57a72"/><rect x="152.52" y="376.13" width="10.42" height="10.41" fill="#f57a72"/><rect x="161.94" y="376.13" width="10.42" height="10.41" fill="#5a56b2"/><rect x="171.36" y="376.13" width="10.42" height="10.41" fill="#5a56b2"/><rect x="180.78" y="376.13" width="10.42" height="10.41" fill="#5a56b2"/><rect x="190.2" y="376.13" width="9.42" height="10.41" fill="#5a56b2"/><rect x="96" y="385.54" width="10.42" height="10.41" fill="#9a68bc"/><rect x="105.42" y="385.54" width="10.42" height="10.41" fill="#9a68bc"/><rect x="114.84" y="385.54" width="10.42" height="10.41" fill="#675ab4"/><rect x="124.26" y="385.54" width="10.42" height="10.41" fill="#9a68bc"/><rect x="133.68" y="385.54" width="10.42" height="10.41" fill="#9a68bc"/><rect x="143.1" y="385.54" width="10.42" height="10.41" fill="#5a56b2"/><rect x="152.52" y="385.54" width="10.42" height="10.41" fill="#5a56b2"/><rect x="161.94" y="385.54" width="10.42" height="10.41" fill="#f57a72"/><rect x="171.36" y="385.54" width="10.42" height="10.41" fill="#9a68bc"/><rect x="180.78" y="385.54" width="10.42" height="10.41" fill="#e07894"/><rect x="190.2" y="385.54" width="9.42" height="10.41" fill="#e07894"/><rect x="96" y="394.95" width="10.42" height="10.41" fill="#8b63bb"/><rect x="105.42" y="394.95" width="10.42" height="10.41" fill="#8b63bb"/><rect x="114.84" y="394.95" width="10.42" height="10.41" fill="#8b63bb"/><rect x="124.26" y="394.95" width="10.42" height="10.41" fill="#e07894"/><rect x="133.68" y="394.95" width="10.42" height="10.41" fill="#f57a72"/><rect x="143.1" y="394.95" width="10.42" height="10.41" fill="#b06eb8"/><rect x="152.52" y="394.95" width="10.42" height="10.41" fill="#9a68bc"/><rect x="161.94" y="394.95" width="10.42" height="10.41" fill="#f57a72"/><rect x="171.36" y="394.95" width="10.42" height="10.41" fill="#f57a72"/><rect x="180.78" y="394.95" width="10.42" height="10.41" fill="#f57a72"/><rect x="190.2" y="394.95" width="9.42" height="10.41" fill="#f57a72"/><rect x="96" y="404.36" width="10.42" height="10.41" fill="#8b63bb"/><rect x="105.42" y="404.36" width="10.42" height="10.41" fill="#8b63bb"/><rect x="114.84" y="404.36" width="10.42" height="10.41" fill="#9a68bc"/><rect x="124.26" y="404.36" width="10.42" height="10.41" fill="#e07894"/><rect x="133.68" y="404.36" width="10.42" height="10.41" fill="#f57a72"/><rect x="143.1" y="404.36" width="10.42" height="10.41" fill="#c474ac"/><rect x="152.52" y="404.36" width="10.42" height="10.41" fill="#9a68bc"/><rect x="161.94" y="404.36" width="10.42" height="10.41" fill="#f57a72"/><rect x="171.36" y="404.36" width="10.42" height="10.41" fill="#f57a72"/><rect x="180.78" y="404.36" width="10.42" height="10.41" fill="#f57a72"/><rect x="190.2" y="404.36" width="9.42" height="10.41" fill="#f57a72"/><rect x="96" y="413.77" width="10.42" height="10.41" fill="#8b63bb"/><rect x="105.42" y="413.77" width="10.42" height="10.41" fill="#8b63bb"/><rect x="114.84" y="413.77" width="10.42" height="10.41" fill="#c086c4"/><rect x="124.26" y="413.77" width="10.42" height="10.41" fill="#b06eb8"/><rect x="133.68" y="413.77" width="10.42" height="10.41" fill="#e07894"/><rect x="143.1" y="413.77" width="10.42" height="10.41" fill="#b06eb8"/><rect x="152.52" y="413.77" width="10.42" height="10.41" fill="#9a68bc"/><rect x="161.94" y="413.77" width="10.42" height="10.41" fill="#5a56b2"/><rect x="171.36" y="413.77" width="10.42" height="10.41" fill="#5a56b2"/><rect x="180.78" y="413.77" width="10.42" height="10.41" fill="#5a56b2"/><rect x="190.2" y="413.77" width="9.42" height="10.41" fill="#5a56b2"/><rect x="96" y="423.18" width="10.42" height="10.41" fill="#8b63bb"/><rect x="105.42" y="423.18" width="10.42" height="10.41" fill="#8b63bb"/><rect x="114.84" y="423.18" width="10.42" height="10.41" fill="#8b63bb"/><rect x="124.26" y="423.18" width="10.42" height="10.41" fill="#e07894"/><rect x="133.68" y="423.18" width="10.42" height="10.41" fill="#f57a72"/><rect x="143.1" y="423.18" width="10.42" height="10.41" fill="#b06eb8"/><rect x="152.52" y="423.18" width="10.42" height="10.41" fill="#9a68bc"/><rect x="161.94" y="423.18" width="10.42" height="10.41" fill="#f57a72"/><rect x="171.36" y="423.18" width="10.42" height="10.41" fill="#f57a72"/><rect x="180.78" y="423.18" width="10.42" height="10.41" fill="#f57a72"/><rect x="190.2" y="423.18" width="9.42" height="10.41" fill="#f57a72"/><rect x="96" y="432.59" width="10.42" height="10.41" fill="#9a68bc"/><rect x="105.42" y="432.59" width="10.42" height="10.41" fill="#8b63bb"/><rect x="114.84" y="432.59" width="10.42" height="10.41" fill="#7c60bc"/><rect x="124.26" y="432.59" width="10.42" height="10.41" fill="#e07894"/><rect x="133.68" y="432.59" width="10.42" height="10.41" fill="#f57a72"/><rect x="143.1" y="432.59" width="10.42" height="10.41" fill="#b06eb8"/><rect x="152.52" y="432.59" width="10.42" height="10.41" fill="#b06eb8"/><rect x="161.94" y="432.59" width="10.42" height="10.41" fill="#f57a72"/><rect x="171.36" y="432.59" width="10.42" height="10.41" fill="#9a68bc"/><rect x="180.78" y="432.59" width="10.42" height="10.41" fill="#9a68bc"/><rect x="190.2" y="432.59" width="9.42" height="10.41" fill="#f57a72"/><rect x="96" y="442" width="10.42" height="10.41" fill="#8b63bb"/><rect x="105.42" y="442" width="10.42" height="10.41" fill="#8b63bb"/><rect x="114.84" y="442" width="10.42" height="10.41" fill="#9a68bc"/><rect x="124.26" y="442" width="10.42" height="10.41" fill="#7c60bc"/><rect x="133.68" y="442" width="10.42" height="10.41" fill="#9a68bc"/><rect x="143.1" y="442" width="10.42" height="10.41" fill="#675ab4"/><rect x="152.52" y="442" width="10.42" height="10.41" fill="#5a56b2"/><rect x="161.94" y="442" width="10.42" height="10.41" fill="#8b63bb"/><rect x="171.36" y="442" width="10.42" height="10.41" fill="#675ab4"/><rect x="180.78" y="442" width="10.42" height="10.41" fill="#8b63bb"/><rect x="190.2" y="442" width="9.42" height="10.41" fill="#8b63bb"/><rect x="96" y="451.41" width="10.42" height="10.41" fill="#8b63bb"/><rect x="105.42" y="451.41" width="10.42" height="10.41" fill="#675ab4"/><rect x="114.84" y="451.41" width="10.42" height="10.41" fill="#e07894"/><rect x="124.26" y="451.41" width="10.42" height="10.41" fill="#f26a66"/><rect x="133.68" y="451.41" width="10.42" height="10.41" fill="#f26a66"/><rect x="143.1" y="451.41" width="10.42" height="10.41" fill="#f26a66"/><rect x="152.52" y="451.41" width="10.42" height="10.41" fill="#f26a66"/><rect x="161.94" y="451.41" width="10.42" height="10.41" fill="#f57a72"/><rect x="171.36" y="451.41" width="10.42" height="10.41" fill="#f57a72"/><rect x="180.78" y="451.41" width="10.42" height="10.41" fill="#f57a72"/><rect x="190.2" y="451.41" width="9.42" height="10.41" fill="#f57a72"/><rect x="96" y="460.82" width="10.42" height="10.41" fill="#8b63bb"/><rect x="105.42" y="460.82" width="10.42" height="10.41" fill="#8b63bb"/><rect x="114.84" y="460.82" width="10.42" height="10.41" fill="#9a68bc"/><rect x="124.26" y="460.82" width="10.42" height="10.41" fill="#f57a72"/><rect x="133.68" y="460.82" width="10.42" height="10.41" fill="#f57a72"/><rect x="143.1" y="460.82" width="10.42" height="10.41" fill="#c474ac"/><rect x="152.52" y="460.82" width="10.42" height="10.41" fill="#9a68bc"/><rect x="161.94" y="460.82" width="10.42" height="10.41" fill="#f57a72"/><rect x="171.36" y="460.82" width="10.42" height="10.41" fill="#f57a72"/><rect x="180.78" y="460.82" width="10.42" height="10.41" fill="#f57a72"/><rect x="190.2" y="460.82" width="9.42" height="10.41" fill="#f57a72"/><rect x="96" y="470.23" width="10.42" height="10.41" fill="#8b63bb"/><rect x="105.42" y="470.23" width="10.42" height="10.41" fill="#8b63bb"/><rect x="114.84" y="470.23" width="10.42" height="10.41" fill="#c474ac"/><rect x="124.26" y="470.23" width="10.42" height="10.41" fill="#5a56b2"/><rect x="133.68" y="470.23" width="10.42" height="10.41" fill="#675ab4"/><rect x="143.1" y="470.23" width="10.42" height="10.41" fill="#5a56b2"/><rect x="152.52" y="470.23" width="10.42" height="10.41" fill="#5a56b2"/><rect x="161.94" y="470.23" width="10.42" height="10.41" fill="#8b63bb"/><rect x="171.36" y="470.23" width="10.42" height="10.41" fill="#8b63bb"/><rect x="180.78" y="470.23" width="10.42" height="10.41" fill="#8b63bb"/><rect x="190.2" y="470.23" width="9.42" height="10.41" fill="#675ab4"/><rect x="96" y="479.64" width="10.42" height="9.41" fill="#8b63bb"/><rect x="105.42" y="479.64" width="10.42" height="9.41" fill="#8b63bb"/><rect x="114.84" y="479.64" width="10.42" height="9.41" fill="#8b63bb"/><rect x="124.26" y="479.64" width="10.42" height="9.41" fill="#675ab4"/><rect x="133.68" y="479.64" width="10.42" height="9.41" fill="#9a68bc"/><rect x="143.1" y="479.64" width="10.42" height="9.41" fill="#5a56b2"/><rect x="152.52" y="479.64" width="10.42" height="9.41" fill="#675ab4"/><rect x="161.94" y="479.64" width="10.42" height="9.41" fill="#5a56b2"/><rect x="171.36" y="479.64" width="10.42" height="9.41" fill="#5a56b2"/><rect x="180.78" y="479.64" width="10.42" height="9.41" fill="#8b63bb"/><rect x="190.2" y="479.64" width="9.42" height="9.41" fill="#9a68bc"/><rect x="209.04" y="347.9" width="10.42" height="10.41" fill="#8b63bb"/><rect x="218.46" y="347.9" width="10.42" height="10.41" fill="#8b63bb"/><rect x="227.88" y="347.9" width="10.42" height="10.41" fill="#8b63bb"/><rect x="237.3" y="347.9" width="10.42" height="10.41" fill="#675ab4"/><rect x="246.72" y="347.9" width="10.42" height="10.41" fill="#675ab4"/><rect x="256.14" y="347.9" width="10.42" height="10.41" fill="#675ab4"/><rect x="265.56" y="347.9" width="10.42" height="10.41" fill="#675ab4"/><rect x="274.98" y="347.9" width="10.42" height="10.41" fill="#7c60bc"/><rect x="284.4" y="347.9" width="10.42" height="10.41" fill="#7c60bc"/><rect x="293.82" y="347.9" width="10.42" height="10.41" fill="#7c60bc"/><rect x="303.24" y="347.9" width="9.42" height="10.41" fill="#7c60bc"/><rect x="209.04" y="357.31" width="10.42" height="10.41" fill="#8b63bb"/><rect x="218.46" y="357.31" width="10.42" height="10.41" fill="#8b63bb"/><rect x="227.88" y="357.31" width="10.42" height="10.41" fill="#8b63bb"/><rect x="237.3" y="357.31" width="10.42" height="10.41" fill="#f57a72"/><rect x="246.72" y="357.31" width="10.42" height="10.41" fill="#f57a72"/><rect x="256.14" y="357.31" width="10.42" height="10.41" fill="#f57a72"/><rect x="265.56" y="357.31" width="10.42" height="10.41" fill="#f57a72"/><rect x="274.98" y="357.31" width="10.42" height="10.41" fill="#7c60bc"/><rect x="284.4" y="357.31" width="10.42" height="10.41" fill="#675ab4"/><rect x="293.82" y="357.31" width="10.42" height="10.41" fill="#675ab4"/><rect x="303.24" y="357.31" width="9.42" height="10.41" fill="#675ab4"/><rect x="209.04" y="366.72" width="10.42" height="10.41" fill="#8b63bb"/><rect x="218.46" y="366.72" width="10.42" height="10.41" fill="#8b63bb"/><rect x="227.88" y="366.72" width="10.42" height="10.41" fill="#8b63bb"/><rect x="237.3" y="366.72" width="10.42" height="10.41" fill="#cc3634"/><rect x="246.72" y="366.72" width="10.42" height="10.41" fill="#d8423e"/><rect x="256.14" y="366.72" width="10.42" height="10.41" fill="#d8423e"/><rect x="265.56" y="366.72" width="10.42" height="10.41" fill="#cc3634"/><rect x="274.98" y="366.72" width="10.42" height="10.41" fill="#675ab4"/><rect x="284.4" y="366.72" width="10.42" height="10.41" fill="#675ab4"/><rect x="293.82" y="366.72" width="10.42" height="10.41" fill="#675ab4"/><rect x="303.24" y="366.72" width="9.42" height="10.41" fill="#675ab4"/><rect x="209.04" y="376.13" width="10.42" height="10.41" fill="#8b63bb"/><rect x="218.46" y="376.13" width="10.42" height="10.41" fill="#8b63bb"/><rect x="227.88" y="376.13" width="10.42" height="10.41" fill="#8b63bb"/><rect x="237.3" y="376.13" width="10.42" height="10.41" fill="#cc3634"/><rect x="246.72" y="376.13" width="10.42" height="10.41" fill="#d8423e"/><rect x="256.14" y="376.13" width="10.42" height="10.41" fill="#d8423e"/><rect x="265.56" y="376.13" width="10.42" height="10.41" fill="#cc3634"/><rect x="274.98" y="376.13" width="10.42" height="10.41" fill="#675ab4"/><rect x="284.4" y="376.13" width="10.42" height="10.41" fill="#675ab4"/><rect x="293.82" y="376.13" width="10.42" height="10.41" fill="#675ab4"/><rect x="303.24" y="376.13" width="9.42" height="10.41" fill="#675ab4"/><rect x="209.04" y="385.54" width="10.42" height="10.41" fill="#8b63bb"/><rect x="218.46" y="385.54" width="10.42" height="10.41" fill="#8b63bb"/><rect x="227.88" y="385.54" width="10.42" height="10.41" fill="#675ab4"/><rect x="237.3" y="385.54" width="10.42" height="10.41" fill="#675ab4"/><rect x="246.72" y="385.54" width="10.42" height="10.41" fill="#5a56b2"/><rect x="256.14" y="385.54" width="10.42" height="10.41" fill="#5a56b2"/><rect x="265.56" y="385.54" width="10.42" height="10.41" fill="#675ab4"/><rect x="274.98" y="385.54" width="10.42" height="10.41" fill="#7c60bc"/><rect x="284.4" y="385.54" width="10.42" height="10.41" fill="#7c60bc"/><rect x="293.82" y="385.54" width="10.42" height="10.41" fill="#7c60bc"/><rect x="303.24" y="385.54" width="9.42" height="10.41" fill="#7c60bc"/><rect x="209.04" y="394.95" width="10.42" height="10.41" fill="#675ab4"/><rect x="218.46" y="394.95" width="10.42" height="10.41" fill="#8b63bb"/><rect x="227.88" y="394.95" width="10.42" height="10.41" fill="#b06eb8"/><rect x="237.3" y="394.95" width="10.42" height="10.41" fill="#8b63bb"/><rect x="246.72" y="394.95" width="10.42" height="10.41" fill="#675ab4"/><rect x="256.14" y="394.95" width="10.42" height="10.41" fill="#675ab4"/><rect x="265.56" y="394.95" width="10.42" height="10.41" fill="#8b63bb"/><rect x="274.98" y="394.95" width="10.42" height="10.41" fill="#675ab4"/><rect x="284.4" y="394.95" width="10.42" height="10.41" fill="#675ab4"/><rect x="293.82" y="394.95" width="10.42" height="10.41" fill="#675ab4"/><rect x="303.24" y="394.95" width="9.42" height="10.41" fill="#675ab4"/><rect x="209.04" y="404.36" width="10.42" height="10.41" fill="#8b63bb"/><rect x="218.46" y="404.36" width="10.42" height="10.41" fill="#8b63bb"/><rect x="227.88" y="404.36" width="10.42" height="10.41" fill="#7c60bc"/><rect x="237.3" y="404.36" width="10.42" height="10.41" fill="#f57a72"/><rect x="246.72" y="404.36" width="10.42" height="10.41" fill="#f57a72"/><rect x="256.14" y="404.36" width="10.42" height="10.41" fill="#f57a72"/><rect x="265.56" y="404.36" width="10.42" height="10.41" fill="#f57a72"/><rect x="274.98" y="404.36" width="10.42" height="10.41" fill="#675ab4"/><rect x="284.4" y="404.36" width="10.42" height="10.41" fill="#675ab4"/><rect x="293.82" y="404.36" width="10.42" height="10.41" fill="#675ab4"/><rect x="303.24" y="404.36" width="9.42" height="10.41" fill="#675ab4"/><rect x="209.04" y="413.77" width="10.42" height="10.41" fill="#675ab4"/><rect x="218.46" y="413.77" width="10.42" height="10.41" fill="#c474ac"/><rect x="227.88" y="413.77" width="10.42" height="10.41" fill="#b06eb8"/><rect x="237.3" y="413.77" width="10.42" height="10.41" fill="#8b63bb"/><rect x="246.72" y="413.77" width="10.42" height="10.41" fill="#7c60bc"/><rect x="256.14" y="413.77" width="10.42" height="10.41" fill="#675ab4"/><rect x="265.56" y="413.77" width="10.42" height="10.41" fill="#675ab4"/><rect x="274.98" y="413.77" width="10.42" height="10.41" fill="#675ab4"/><rect x="284.4" y="413.77" width="10.42" height="10.41" fill="#675ab4"/><rect x="293.82" y="413.77" width="10.42" height="10.41" fill="#675ab4"/><rect x="303.24" y="413.77" width="9.42" height="10.41" fill="#675ab4"/><rect x="209.04" y="423.18" width="10.42" height="10.41" fill="#8b63bb"/><rect x="218.46" y="423.18" width="10.42" height="10.41" fill="#8b63bb"/><rect x="227.88" y="423.18" width="10.42" height="10.41" fill="#8b63bb"/><rect x="237.3" y="423.18" width="10.42" height="10.41" fill="#f57a72"/><rect x="246.72" y="423.18" width="10.42" height="10.41" fill="#f57a72"/><rect x="256.14" y="423.18" width="10.42" height="10.41" fill="#f57a72"/><rect x="265.56" y="423.18" width="10.42" height="10.41" fill="#f57a72"/><rect x="274.98" y="423.18" width="10.42" height="10.41" fill="#675ab4"/><rect x="284.4" y="423.18" width="10.42" height="10.41" fill="#675ab4"/><rect x="293.82" y="423.18" width="10.42" height="10.41" fill="#675ab4"/><rect x="303.24" y="423.18" width="9.42" height="10.41" fill="#675ab4"/><rect x="209.04" y="432.59" width="10.42" height="10.41" fill="#b06eb8"/><rect x="218.46" y="432.59" width="10.42" height="10.41" fill="#8b63bb"/><rect x="227.88" y="432.59" width="10.42" height="10.41" fill="#8b63bb"/><rect x="237.3" y="432.59" width="10.42" height="10.41" fill="#f57a72"/><rect x="246.72" y="432.59" width="10.42" height="10.41" fill="#c474ac"/><rect x="256.14" y="432.59" width="10.42" height="10.41" fill="#675ab4"/><rect x="265.56" y="432.59" width="10.42" height="10.41" fill="#675ab4"/><rect x="274.98" y="432.59" width="10.42" height="10.41" fill="#9a68bc"/><rect x="284.4" y="432.59" width="10.42" height="10.41" fill="#675ab4"/><rect x="293.82" y="432.59" width="10.42" height="10.41" fill="#675ab4"/><rect x="303.24" y="432.59" width="9.42" height="10.41" fill="#675ab4"/><rect x="209.04" y="442" width="10.42" height="10.41" fill="#8b63bb"/><rect x="218.46" y="442" width="10.42" height="10.41" fill="#8b63bb"/><rect x="227.88" y="442" width="10.42" height="10.41" fill="#8b63bb"/><rect x="237.3" y="442" width="10.42" height="10.41" fill="#675ab4"/><rect x="246.72" y="442" width="10.42" height="10.41" fill="#675ab4"/><rect x="256.14" y="442" width="10.42" height="10.41" fill="#675ab4"/><rect x="265.56" y="442" width="10.42" height="10.41" fill="#675ab4"/><rect x="274.98" y="442" width="10.42" height="10.41" fill="#7c60bc"/><rect x="284.4" y="442" width="10.42" height="10.41" fill="#7c60bc"/><rect x="293.82" y="442" width="10.42" height="10.41" fill="#7c60bc"/><rect x="303.24" y="442" width="9.42" height="10.41" fill="#7c60bc"/><rect x="209.04" y="451.41" width="10.42" height="10.41" fill="#8b63bb"/><rect x="218.46" y="451.41" width="10.42" height="10.41" fill="#8b63bb"/><rect x="227.88" y="451.41" width="10.42" height="10.41" fill="#8b63bb"/><rect x="237.3" y="451.41" width="10.42" height="10.41" fill="#f26a66"/><rect x="246.72" y="451.41" width="10.42" height="10.41" fill="#f26a66"/><rect x="256.14" y="451.41" width="10.42" height="10.41" fill="#f57a72"/><rect x="265.56" y="451.41" width="10.42" height="10.41" fill="#f57a72"/><rect x="274.98" y="451.41" width="10.42" height="10.41" fill="#675ab4"/><rect x="284.4" y="451.41" width="10.42" height="10.41" fill="#675ab4"/><rect x="293.82" y="451.41" width="10.42" height="10.41" fill="#675ab4"/><rect x="303.24" y="451.41" width="9.42" height="10.41" fill="#675ab4"/><rect x="209.04" y="460.82" width="10.42" height="10.41" fill="#8b63bb"/><rect x="218.46" y="460.82" width="10.42" height="10.41" fill="#8b63bb"/><rect x="227.88" y="460.82" width="10.42" height="10.41" fill="#8b63bb"/><rect x="237.3" y="460.82" width="10.42" height="10.41" fill="#f57a72"/><rect x="246.72" y="460.82" width="10.42" height="10.41" fill="#e07894"/><rect x="256.14" y="460.82" width="10.42" height="10.41" fill="#f57a72"/><rect x="265.56" y="460.82" width="10.42" height="10.41" fill="#f57a72"/><rect x="274.98" y="460.82" width="10.42" height="10.41" fill="#675ab4"/><rect x="284.4" y="460.82" width="10.42" height="10.41" fill="#675ab4"/><rect x="293.82" y="460.82" width="10.42" height="10.41" fill="#675ab4"/><rect x="303.24" y="460.82" width="9.42" height="10.41" fill="#675ab4"/><rect x="209.04" y="470.23" width="10.42" height="10.41" fill="#5a56b2"/><rect x="218.46" y="470.23" width="10.42" height="10.41" fill="#f57a72"/><rect x="227.88" y="470.23" width="10.42" height="10.41" fill="#f57a72"/><rect x="237.3" y="470.23" width="10.42" height="10.41" fill="#5a56b2"/><rect x="246.72" y="470.23" width="10.42" height="10.41" fill="#5a56b2"/><rect x="256.14" y="470.23" width="10.42" height="10.41" fill="#5a56b2"/><rect x="265.56" y="470.23" width="10.42" height="10.41" fill="#5a56b2"/><rect x="274.98" y="470.23" width="10.42" height="10.41" fill="#f57a72"/><rect x="284.4" y="470.23" width="10.42" height="10.41" fill="#f57a72"/><rect x="293.82" y="470.23" width="10.42" height="10.41" fill="#f57a72"/><rect x="303.24" y="470.23" width="9.42" height="10.41" fill="#f57a72"/><rect x="209.04" y="479.64" width="10.42" height="9.41" fill="#8b63bb"/><rect x="218.46" y="479.64" width="10.42" height="9.41" fill="#8b63bb"/><rect x="227.88" y="479.64" width="10.42" height="9.41" fill="#8b63bb"/><rect x="237.3" y="479.64" width="10.42" height="9.41" fill="#9a68bc"/><rect x="246.72" y="479.64" width="10.42" height="9.41" fill="#9a68bc"/><rect x="256.14" y="479.64" width="10.42" height="9.41" fill="#675ab4"/><rect x="265.56" y="479.64" width="10.42" height="9.41" fill="#675ab4"/><rect x="274.98" y="479.64" width="10.42" height="9.41" fill="#675ab4"/><rect x="284.4" y="479.64" width="10.42" height="9.41" fill="#675ab4"/><rect x="293.82" y="479.64" width="10.42" height="9.41" fill="#675ab4"/><rect x="303.24" y="479.64" width="9.42" height="9.41" fill="#675ab4"/><rect x="322.08" y="347.9" width="10.42" height="10.41" fill="#675ab4"/><rect x="331.5" y="347.9" width="10.42" height="10.41" fill="#8b63bb"/><rect x="340.92" y="347.9" width="10.42" height="10.41" fill="#9a68bc"/><rect x="350.34" y="347.9" width="10.42" height="10.41" fill="#f57a72"/><rect x="359.76" y="347.9" width="10.42" height="10.41" fill="#f57a72"/><rect x="369.18" y="347.9" width="10.42" height="10.41" fill="#f57a72"/><rect x="378.6" y="347.9" width="10.42" height="10.41" fill="#f57a72"/><rect x="388.02" y="347.9" width="10.42" height="10.41" fill="#675ab4"/><rect x="397.44" y="347.9" width="10.42" height="10.41" fill="#7c60bc"/><rect x="406.86" y="347.9" width="10.42" height="10.41" fill="#7c60bc"/><rect x="416.28" y="347.9" width="9.42" height="10.41" fill="#9a68bc"/><rect x="322.08" y="357.31" width="10.42" height="10.41" fill="#8b63bb"/><rect x="331.5" y="357.31" width="10.42" height="10.41" fill="#8b63bb"/><rect x="340.92" y="357.31" width="10.42" height="10.41" fill="#675ab4"/><rect x="350.34" y="357.31" width="10.42" height="10.41" fill="#f57a72"/><rect x="359.76" y="357.31" width="10.42" height="10.41" fill="#f57a72"/><rect x="369.18" y="357.31" width="10.42" height="10.41" fill="#f57a72"/><rect x="378.6" y="357.31" width="10.42" height="10.41" fill="#f57a72"/><rect x="388.02" y="357.31" width="10.42" height="10.41" fill="#5a56b2"/><rect x="397.44" y="357.31" width="10.42" height="10.41" fill="#5a56b2"/><rect x="406.86" y="357.31" width="10.42" height="10.41" fill="#5a56b2"/><rect x="416.28" y="357.31" width="9.42" height="10.41" fill="#9a68bc"/><rect x="322.08" y="366.72" width="10.42" height="10.41" fill="#8b63bb"/><rect x="331.5" y="366.72" width="10.42" height="10.41" fill="#8b63bb"/><rect x="340.92" y="366.72" width="10.42" height="10.41" fill="#8b63bb"/><rect x="350.34" y="366.72" width="10.42" height="10.41" fill="#e4504c"/><rect x="359.76" y="366.72" width="10.42" height="10.41" fill="#f57a72"/><rect x="369.18" y="366.72" width="10.42" height="10.41" fill="#f57a72"/><rect x="378.6" y="366.72" width="10.42" height="10.41" fill="#f57a72"/><rect x="388.02" y="366.72" width="10.42" height="10.41" fill="#f57a72"/><rect x="397.44" y="366.72" width="10.42" height="10.41" fill="#c474ac"/><rect x="406.86" y="366.72" width="10.42" height="10.41" fill="#c474ac"/><rect x="416.28" y="366.72" width="9.42" height="10.41" fill="#9a68bc"/><rect x="322.08" y="376.13" width="10.42" height="10.41" fill="#8b63bb"/><rect x="331.5" y="376.13" width="10.42" height="10.41" fill="#8b63bb"/><rect x="340.92" y="376.13" width="10.42" height="10.41" fill="#8b63bb"/><rect x="350.34" y="376.13" width="10.42" height="10.41" fill="#f57a72"/><rect x="359.76" y="376.13" width="10.42" height="10.41" fill="#f57a72"/><rect x="369.18" y="376.13" width="10.42" height="10.41" fill="#f57a72"/><rect x="378.6" y="376.13" width="10.42" height="10.41" fill="#f57a72"/><rect x="388.02" y="376.13" width="10.42" height="10.41" fill="#675ab4"/><rect x="397.44" y="376.13" width="10.42" height="10.41" fill="#b06eb8"/><rect x="406.86" y="376.13" width="10.42" height="10.41" fill="#675ab4"/><rect x="416.28" y="376.13" width="9.42" height="10.41" fill="#f57a72"/><rect x="322.08" y="385.54" width="10.42" height="10.41" fill="#8b63bb"/><rect x="331.5" y="385.54" width="10.42" height="10.41" fill="#9a68bc"/><rect x="340.92" y="385.54" width="10.42" height="10.41" fill="#8b63bb"/><rect x="350.34" y="385.54" width="10.42" height="10.41" fill="#c474ac"/><rect x="359.76" y="385.54" width="10.42" height="10.41" fill="#f57a72"/><rect x="369.18" y="385.54" width="10.42" height="10.41" fill="#5a56b2"/><rect x="378.6" y="385.54" width="10.42" height="10.41" fill="#5a56b2"/><rect x="388.02" y="385.54" width="10.42" height="10.41" fill="#675ab4"/><rect x="397.44" y="385.54" width="10.42" height="10.41" fill="#7c60bc"/><rect x="406.86" y="385.54" width="10.42" height="10.41" fill="#7c60bc"/><rect x="416.28" y="385.54" width="9.42" height="10.41" fill="#7c60bc"/><rect x="322.08" y="394.95" width="10.42" height="10.41" fill="#f26a66"/><rect x="331.5" y="394.95" width="10.42" height="10.41" fill="#675ab4"/><rect x="340.92" y="394.95" width="10.42" height="10.41" fill="#675ab4"/><rect x="350.34" y="394.95" width="10.42" height="10.41" fill="#c01a1a"/><rect x="359.76" y="394.95" width="10.42" height="10.41" fill="#c01a1a"/><rect x="369.18" y="394.95" width="10.42" height="10.41" fill="#675ab4"/><rect x="378.6" y="394.95" width="10.42" height="10.41" fill="#f26a66"/><rect x="388.02" y="394.95" width="10.42" height="10.41" fill="#c01a1a"/><rect x="397.44" y="394.95" width="10.42" height="10.41" fill="#675ab4"/><rect x="406.86" y="394.95" width="10.42" height="10.41" fill="#e4504c"/><rect x="416.28" y="394.95" width="9.42" height="10.41" fill="#c01a1a"/><rect x="322.08" y="404.36" width="10.42" height="10.41" fill="#8b63bb"/><rect x="331.5" y="404.36" width="10.42" height="10.41" fill="#675ab4"/><rect x="340.92" y="404.36" width="10.42" height="10.41" fill="#f57a72"/><rect x="350.34" y="404.36" width="10.42" height="10.41" fill="#f57a72"/><rect x="359.76" y="404.36" width="10.42" height="10.41" fill="#f57a72"/><rect x="369.18" y="404.36" width="10.42" height="10.41" fill="#f57a72"/><rect x="378.6" y="404.36" width="10.42" height="10.41" fill="#9a68bc"/><rect x="388.02" y="404.36" width="10.42" height="10.41" fill="#8b63bb"/><rect x="397.44" y="404.36" width="10.42" height="10.41" fill="#8b63bb"/><rect x="406.86" y="404.36" width="10.42" height="10.41" fill="#9a68bc"/><rect x="416.28" y="404.36" width="9.42" height="10.41" fill="#f57a72"/><rect x="322.08" y="413.77" width="10.42" height="10.41" fill="#8b63bb"/><rect x="331.5" y="413.77" width="10.42" height="10.41" fill="#8b63bb"/><rect x="340.92" y="413.77" width="10.42" height="10.41" fill="#8b63bb"/><rect x="350.34" y="413.77" width="10.42" height="10.41" fill="#b06eb8"/><rect x="359.76" y="413.77" width="10.42" height="10.41" fill="#9a68bc"/><rect x="369.18" y="413.77" width="10.42" height="10.41" fill="#8b63bb"/><rect x="378.6" y="413.77" width="10.42" height="10.41" fill="#7c60bc"/><rect x="388.02" y="413.77" width="10.42" height="10.41" fill="#675ab4"/><rect x="397.44" y="413.77" width="10.42" height="10.41" fill="#675ab4"/><rect x="406.86" y="413.77" width="10.42" height="10.41" fill="#675ab4"/><rect x="416.28" y="413.77" width="9.42" height="10.41" fill="#675ab4"/><rect x="322.08" y="423.18" width="10.42" height="10.41" fill="#8b63bb"/><rect x="331.5" y="423.18" width="10.42" height="10.41" fill="#b06eb8"/><rect x="340.92" y="423.18" width="10.42" height="10.41" fill="#8b63bb"/><rect x="350.34" y="423.18" width="10.42" height="10.41" fill="#b06eb8"/><rect x="359.76" y="423.18" width="10.42" height="10.41" fill="#c474ac"/><rect x="369.18" y="423.18" width="10.42" height="10.41" fill="#8b63bb"/><rect x="378.6" y="423.18" width="10.42" height="10.41" fill="#5a56b2"/><rect x="388.02" y="423.18" width="10.42" height="10.41" fill="#9a68bc"/><rect x="397.44" y="423.18" width="10.42" height="10.41" fill="#675ab4"/><rect x="406.86" y="423.18" width="10.42" height="10.41" fill="#675ab4"/><rect x="416.28" y="423.18" width="9.42" height="10.41" fill="#675ab4"/><rect x="322.08" y="432.59" width="10.42" height="10.41" fill="#8b63bb"/><rect x="331.5" y="432.59" width="10.42" height="10.41" fill="#8b63bb"/><rect x="340.92" y="432.59" width="10.42" height="10.41" fill="#8b63bb"/><rect x="350.34" y="432.59" width="10.42" height="10.41" fill="#8b63bb"/><rect x="359.76" y="432.59" width="10.42" height="10.41" fill="#8b63bb"/><rect x="369.18" y="432.59" width="10.42" height="10.41" fill="#675ab4"/><rect x="378.6" y="432.59" width="10.42" height="10.41" fill="#9a68bc"/><rect x="388.02" y="432.59" width="10.42" height="10.41" fill="#675ab4"/><rect x="397.44" y="432.59" width="10.42" height="10.41" fill="#675ab4"/><rect x="406.86" y="432.59" width="10.42" height="10.41" fill="#675ab4"/><rect x="416.28" y="432.59" width="9.42" height="10.41" fill="#675ab4"/><rect x="322.08" y="442" width="10.42" height="10.41" fill="#8b63bb"/><rect x="331.5" y="442" width="10.42" height="10.41" fill="#8b63bb"/><rect x="340.92" y="442" width="10.42" height="10.41" fill="#8b63bb"/><rect x="350.34" y="442" width="10.42" height="10.41" fill="#7c60bc"/><rect x="359.76" y="442" width="10.42" height="10.41" fill="#7c60bc"/><rect x="369.18" y="442" width="10.42" height="10.41" fill="#675ab4"/><rect x="378.6" y="442" width="10.42" height="10.41" fill="#675ab4"/><rect x="388.02" y="442" width="10.42" height="10.41" fill="#675ab4"/><rect x="397.44" y="442" width="10.42" height="10.41" fill="#675ab4"/><rect x="406.86" y="442" width="10.42" height="10.41" fill="#675ab4"/><rect x="416.28" y="442" width="9.42" height="10.41" fill="#675ab4"/><rect x="322.08" y="451.41" width="10.42" height="10.41" fill="#8b63bb"/><rect x="331.5" y="451.41" width="10.42" height="10.41" fill="#5a56b2"/><rect x="340.92" y="451.41" width="10.42" height="10.41" fill="#e07894"/><rect x="350.34" y="451.41" width="10.42" height="10.41" fill="#f26a66"/><rect x="359.76" y="451.41" width="10.42" height="10.41" fill="#f26a66"/><rect x="369.18" y="451.41" width="10.42" height="10.41" fill="#f26a66"/><rect x="378.6" y="451.41" width="10.42" height="10.41" fill="#f26a66"/><rect x="388.02" y="451.41" width="10.42" height="10.41" fill="#f57a72"/><rect x="397.44" y="451.41" width="10.42" height="10.41" fill="#f57a72"/><rect x="406.86" y="451.41" width="10.42" height="10.41" fill="#f57a72"/><rect x="416.28" y="451.41" width="9.42" height="10.41" fill="#f57a72"/><rect x="322.08" y="460.82" width="10.42" height="10.41" fill="#8b63bb"/><rect x="331.5" y="460.82" width="10.42" height="10.41" fill="#8b63bb"/><rect x="340.92" y="460.82" width="10.42" height="10.41" fill="#675ab4"/><rect x="350.34" y="460.82" width="10.42" height="10.41" fill="#8b63bb"/><rect x="359.76" y="460.82" width="10.42" height="10.41" fill="#8b63bb"/><rect x="369.18" y="460.82" width="10.42" height="10.41" fill="#c474ac"/><rect x="378.6" y="460.82" width="10.42" height="10.41" fill="#9a68bc"/><rect x="388.02" y="460.82" width="10.42" height="10.41" fill="#f57a72"/><rect x="397.44" y="460.82" width="10.42" height="10.41" fill="#f57a72"/><rect x="406.86" y="460.82" width="10.42" height="10.41" fill="#f57a72"/><rect x="416.28" y="460.82" width="9.42" height="10.41" fill="#f57a72"/><rect x="322.08" y="470.23" width="10.42" height="10.41" fill="#8b63bb"/><rect x="331.5" y="470.23" width="10.42" height="10.41" fill="#8b63bb"/><rect x="340.92" y="470.23" width="10.42" height="10.41" fill="#c474ac"/><rect x="350.34" y="470.23" width="10.42" height="10.41" fill="#5a56b2"/><rect x="359.76" y="470.23" width="10.42" height="10.41" fill="#5a56b2"/><rect x="369.18" y="470.23" width="10.42" height="10.41" fill="#5a56b2"/><rect x="378.6" y="470.23" width="10.42" height="10.41" fill="#5a56b2"/><rect x="388.02" y="470.23" width="10.42" height="10.41" fill="#675ab4"/><rect x="397.44" y="470.23" width="10.42" height="10.41" fill="#675ab4"/><rect x="406.86" y="470.23" width="10.42" height="10.41" fill="#675ab4"/><rect x="416.28" y="470.23" width="9.42" height="10.41" fill="#675ab4"/><rect x="322.08" y="479.64" width="10.42" height="9.41" fill="#8b63bb"/><rect x="331.5" y="479.64" width="10.42" height="9.41" fill="#8b63bb"/><rect x="340.92" y="479.64" width="10.42" height="9.41" fill="#8b63bb"/><rect x="350.34" y="479.64" width="10.42" height="9.41" fill="#7c60bc"/><rect x="359.76" y="479.64" width="10.42" height="9.41" fill="#7c60bc"/><rect x="369.18" y="479.64" width="10.42" height="9.41" fill="#675ab4"/><rect x="378.6" y="479.64" width="10.42" height="9.41" fill="#675ab4"/><rect x="388.02" y="479.64" width="10.42" height="9.41" fill="#675ab4"/><rect x="397.44" y="479.64" width="10.42" height="9.41" fill="#675ab4"/><rect x="406.86" y="479.64" width="10.42" height="9.41" fill="#675ab4"/><rect x="416.28" y="479.64" width="9.42" height="9.41" fill="#675ab4"/><line x1="96" y1="347.9" x2="425.7" y2="347.9" stroke="#3a3050" stroke-width="0.9"/><line x1="96" y1="489.05" x2="425.7" y2="489.05" stroke="#2a2050" stroke-width="0.9"/><line x1="96" y1="341" x2="96" y2="489.45" stroke="#1a1030" stroke-width="1.4"/><line x1="124.26" y1="341" x2="124.26" y2="489.45" stroke="#1a1030" stroke-width="1.1"/><line x1="161.94" y1="341" x2="161.94" y2="489.45" stroke="#1a1030" stroke-width="1.1"/><line x1="199.62" y1="341" x2="199.62" y2="489.45" stroke="#1a1030" stroke-width="1.1"/><line x1="209.04" y1="341" x2="209.04" y2="489.45" stroke="#1a1030" stroke-width="1.1"/><line x1="237.3" y1="341" x2="237.3" y2="489.45" stroke="#1a1030" stroke-width="1.1"/><line x1="274.98" y1="341" x2="274.98" y2="489.45" stroke="#1a1030" stroke-width="1.1"/><line x1="312.66" y1="341" x2="312.66" y2="489.45" stroke="#1a1030" stroke-width="1.1"/><line x1="322.08" y1="341" x2="322.08" y2="489.45" stroke="#1a1030" stroke-width="1.1"/><line x1="350.34" y1="341" x2="350.34" y2="489.45" stroke="#1a1030" stroke-width="1.1"/><line x1="388.02" y1="341" x2="388.02" y2="489.45" stroke="#1a1030" stroke-width="1.1"/><line x1="425.7" y1="341" x2="425.7" y2="489.45" stroke="#1a1030" stroke-width="1.1"/><rect x="200.22" y="348.4" width="8.22" height="142.15" fill="#fff"/><rect x="313.26" y="348.4" width="8.22" height="142.15" fill="#fff"/><line x1="92.3" y1="352.6" x2="96" y2="352.6" stroke="#111" stroke-width="0.9"/><text x="89.2" y="354.6" font-size="6" text-anchor="end" fill="#222" stroke="#222" stroke-width="0.1">IL-1&#946;</text><line x1="92.3" y1="362.01" x2="96" y2="362.01" stroke="#111" stroke-width="0.9"/><text x="89.2" y="364.01" font-size="6" text-anchor="end" fill="#222" stroke="#222" stroke-width="0.1">IL-6</text><line x1="92.3" y1="371.42" x2="96" y2="371.42" stroke="#111" stroke-width="0.9"/><text x="89.2" y="373.42" font-size="6" text-anchor="end" fill="#222" stroke="#222" stroke-width="0.1">TNF-&#945;</text><line x1="92.3" y1="380.83" x2="96" y2="380.83" stroke="#111" stroke-width="0.9"/><text x="89.2" y="382.83" font-size="6" text-anchor="end" fill="#222" stroke="#222" stroke-width="0.1">INF-&#947;</text><line x1="92.3" y1="390.25" x2="96" y2="390.25" stroke="#111" stroke-width="0.9"/><text x="89.2" y="392.25" font-size="6" text-anchor="end" fill="#222" stroke="#222" stroke-width="0.1">IL-12b</text><line x1="92.3" y1="399.65" x2="96" y2="399.65" stroke="#111" stroke-width="0.9"/><text x="89.2" y="401.65" font-size="6" text-anchor="end" fill="#222" stroke="#222" stroke-width="0.1">IL-17</text><line x1="92.3" y1="409.06" x2="96" y2="409.06" stroke="#111" stroke-width="0.9"/><text x="89.2" y="411.06" font-size="6" text-anchor="end" fill="#222" stroke="#222" stroke-width="0.1">IL-23</text><line x1="92.3" y1="418.47" x2="96" y2="418.47" stroke="#111" stroke-width="0.9"/><text x="89.2" y="420.47" font-size="6" text-anchor="end" fill="#222" stroke="#222" stroke-width="0.1">CCL-2</text><line x1="92.3" y1="427.88" x2="96" y2="427.88" stroke="#111" stroke-width="0.9"/><text x="89.2" y="429.88" font-size="6" text-anchor="end" fill="#222" stroke="#222" stroke-width="0.1">GMCSF</text><line x1="92.3" y1="437.29" x2="96" y2="437.29" stroke="#111" stroke-width="0.9"/><text x="89.2" y="439.29" font-size="6" text-anchor="end" fill="#222" stroke="#222" stroke-width="0.1">IL-10</text><line x1="92.3" y1="446.7" x2="96" y2="446.7" stroke="#111" stroke-width="0.9"/><text x="89.2" y="448.7" font-size="6" text-anchor="end" fill="#222" stroke="#222" stroke-width="0.1">TGF-&#946;</text><line x1="92.3" y1="456.12" x2="96" y2="456.12" stroke="#111" stroke-width="0.9"/><text x="89.2" y="458.12" font-size="6" text-anchor="end" fill="#222" stroke="#222" stroke-width="0.1">T-Bet</text><line x1="92.3" y1="465.52" x2="96" y2="465.52" stroke="#111" stroke-width="0.9"/><text x="89.2" y="467.52" font-size="6" text-anchor="end" fill="#222" stroke="#222" stroke-width="0.1">RoR-gT</text><line x1="92.3" y1="474.93" x2="96" y2="474.93" stroke="#111" stroke-width="0.9"/><text x="89.2" y="476.93" font-size="6" text-anchor="end" fill="#222" stroke="#222" stroke-width="0.1">GATA-3</text><line x1="92.3" y1="484.34" x2="96" y2="484.34" stroke="#111" stroke-width="0.9"/><text x="89.2" y="486.34" font-size="6" text-anchor="end" fill="#222" stroke="#222" stroke-width="0.1">FoxP-3</text><defs><linearGradient id="cb" x1="0" y1="1" x2="0" y2="0"><stop offset="0" stop-color="#4a4aa8"/><stop offset="0.03" stop-color="#7a5cba"/><stop offset="0.06" stop-color="#e0708a"/><stop offset="0.085" stop-color="#f47a76"/><stop offset="0.2" stop-color="#f06c6a"/><stop offset="0.5" stop-color="#e04a48"/><stop offset="0.8" stop-color="#cc2828"/><stop offset="1" stop-color="#b00c0c"/></linearGradient></defs><rect x="438.9" y="347.6" width="13.4" height="141.7" fill="url(#cb)" stroke="#1a1010" stroke-width="1"/><line x1="438.9" y1="461.9" x2="440.5" y2="461.9" stroke="#1a1010" stroke-width="0.9"/><line x1="450.7" y1="461.9" x2="452.3" y2="461.9" stroke="#1a1010" stroke-width="0.9"/><text x="456.3" y="464.1" font-size="6.2" text-anchor="start" fill="#2a2a2a" stroke="#2a2a2a" stroke-width="0.05">20</text><line x1="438.9" y1="433.5" x2="440.5" y2="433.5" stroke="#1a1010" stroke-width="0.9"/><line x1="450.7" y1="433.5" x2="452.3" y2="433.5" stroke="#1a1010" stroke-width="0.9"/><text x="456.3" y="435.7" font-size="6.2" text-anchor="start" fill="#2a2a2a" stroke="#2a2a2a" stroke-width="0.05">40</text><line x1="438.9" y1="405.1" x2="440.5" y2="405.1" stroke="#1a1010" stroke-width="0.9"/><line x1="450.7" y1="405.1" x2="452.3" y2="405.1" stroke="#1a1010" stroke-width="0.9"/><text x="456.3" y="407.3" font-size="6.2" text-anchor="start" fill="#2a2a2a" stroke="#2a2a2a" stroke-width="0.05">60</text><line x1="438.9" y1="376.7" x2="440.5" y2="376.7" stroke="#1a1010" stroke-width="0.9"/><line x1="450.7" y1="376.7" x2="452.3" y2="376.7" stroke="#1a1010" stroke-width="0.9"/><text x="456.3" y="378.9" font-size="6.2" text-anchor="start" fill="#2a2a2a" stroke="#2a2a2a" stroke-width="0.05">80</text><text x="456.3" y="350.5" font-size="6.2" text-anchor="start" fill="#2a2a2a" stroke="#2a2a2a" stroke-width="0.05">100</text><rect x="0" y="0" width="520" height="1" fill="#555"/><rect x="0" y="0" width="1.1" height="497" fill="#555"/><rect x="518.8" y="0" width="1.2" height="497" fill="#555"/><rect x="0" y="495.6" width="520" height="1.4" fill="#555"/></svg></body></html>
